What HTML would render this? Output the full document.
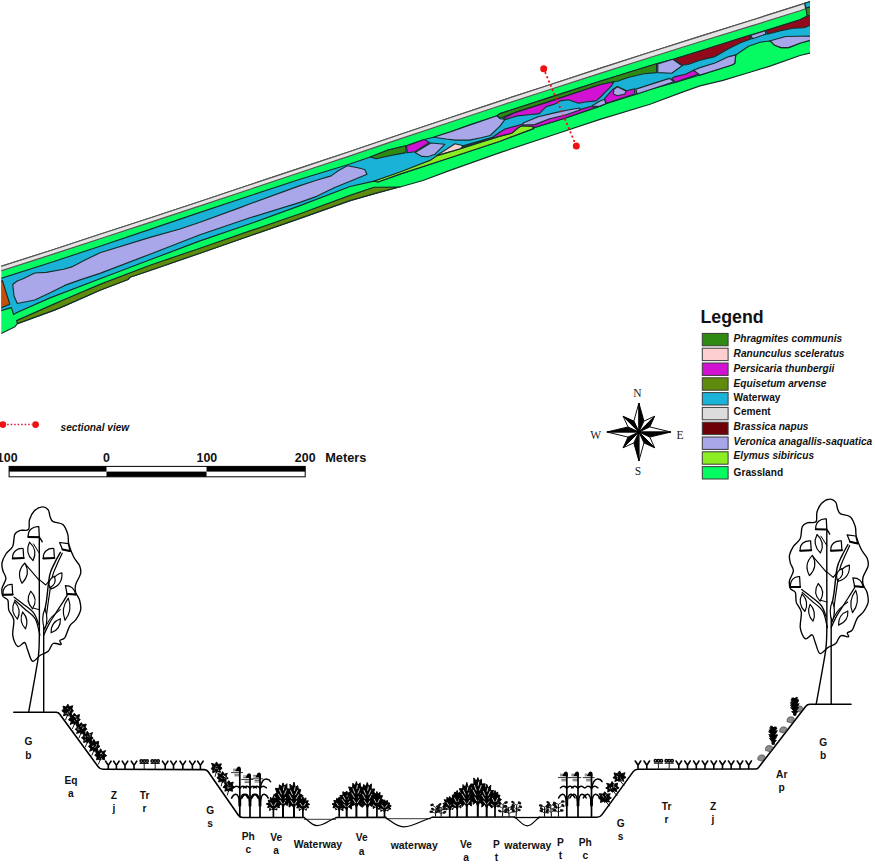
<!DOCTYPE html>
<html><head><meta charset="utf-8"><title>Sectional view</title>
<style>html,body{margin:0;padding:0;background:#fff}svg{display:block}</style></head>
<body>
<svg width="875" height="865" viewBox="0 0 875 865">
<rect width="875" height="865" fill="#fff"/>
<clipPath id="mapclip"><rect x="1.3" y="0" width="808.7" height="400"/></clipPath>
<g stroke="#15302c" stroke-width="1.15" stroke-linejoin="round" clip-path="url(#mapclip)">
<polygon points="-3.0,267.7 50.0,250.7 100.0,234.3 150.0,218.0 200.0,201.5 250.0,184.8 300.0,168.1 350.0,151.5 400.0,134.5 450.0,117.8 500.0,101.1 550.0,84.7 600.0,68.4 650.0,52.3 700.0,36.4 750.0,20.7 800.0,4.9 804.7,3.3 814.0,0.6 814.0,52.3 800.0,55.5 770.0,66.1 750.0,72.3 723.0,80.4 700.0,85.9 681.0,92.6 650.0,104.2 600.0,119.4 550.0,136.0 500.0,152.6 450.0,170.4 423.0,180.5 400.0,187.0 400.0,187.0 398.4,187.3 378.0,192.6 350.0,200.6 300.0,218.4 250.0,235.8 200.0,253.2 150.0,270.5 130.0,277.2 128.0,279.5 100.0,290.3 65.0,305.6 55.0,309.9 17.4,323.6 15.0,326.7 -3.0,335.6" fill="#06fb62"/>
<polygon points="-3.0,267.7 50.0,250.7 100.0,234.3 150.0,218.0 200.0,201.5 250.0,184.8 300.0,168.1 350.0,151.5 400.0,134.5 450.0,117.8 500.0,101.1 550.0,84.7 600.0,68.4 650.0,52.3 700.0,36.4 750.0,20.7 800.0,4.9 804.7,3.3 805.6,8.8 800.0,10.8 750.0,26.4 700.0,41.8 650.0,57.5 600.0,73.4 550.0,89.5 500.0,105.7 450.0,122.2 400.0,138.9 350.0,155.9 300.0,172.5 250.0,189.2 200.0,205.9 150.0,222.4 100.0,238.7 50.0,255.1 -3.0,272.1" fill="#e4e4e4" stroke="#5a5555"/>
<polygon points="16.6,320.6 55.0,303.6 65.0,299.3 100.0,284.4 150.0,265.2 200.0,248.2 250.0,230.9 300.0,213.8 350.0,195.4 374.0,187.2 400.0,187.0 400.0,187.0 398.4,187.3 378.0,192.6 350.0,200.6 300.0,218.4 250.0,235.8 200.0,253.2 150.0,270.5 130.0,277.2 128.0,279.5 100.0,290.3 65.0,305.6 55.0,309.9 17.4,323.6" fill="#5f8c0c"/>
<polygon points="-3.0,279.7 50.0,262.8 100.0,246.2 150.0,229.4 200.0,212.4 250.0,195.7 300.0,179.3 350.0,164.0 370.2,157.0 388.1,150.0 405.7,145.8 406.4,145.9 424.3,139.5 433.5,137.2 450.0,132.0 469.4,125.1 497.1,115.8 500.0,113.6 550.0,97.4 600.0,81.2 650.0,65.7 656.6,63.7 672.8,59.3 700.0,51.0 749.7,35.3 765.3,30.6 800.0,19.7 807.0,16.2 814.0,14.0 814.0,39.4 800.5,43.0 788.5,47.6 781.1,47.6 774.6,45.3 771.0,41.6 769.4,41.0 760.1,42.2 748.6,46.2 735.8,54.9 734.7,63.6 731.2,65.3 700.0,75.0 675.1,82.4 650.0,89.4 634.7,94.6 606.0,103.8 600.0,106.1 564.7,118.2 534.7,127.5 533.5,128.6 500.0,141.2 450.0,157.7 400.0,174.1 378.0,182.0 374.0,181.1 350.0,186.5 300.0,205.6 250.0,223.8 200.0,240.9 150.0,259.8 100.0,278.7 50.0,297.9 17.5,312.3 13.6,314.6 11.4,307.6 -3.0,311.9" fill="#1bb2d8"/>
<polygon points="-3.0,284.6 2.4,280.5 9.8,304.2 -3.0,309.6" fill="#c4500e"/>
<polygon points="12.7,284.5 17.3,281.0 23.1,278.7 34.7,273.0 46.2,272.4 63.6,269.2 71.7,266.9 85.5,259.8 100.0,252.8 150.0,237.4 180.0,229.0 200.0,222.2 240.0,207.6 250.0,203.8 300.0,185.6 317.3,180.0 331.2,175.9 338.2,170.7 347.4,165.8 357.8,167.8 364.7,169.5 367.0,174.2 352.0,180.5 334.7,187.5 317.3,196.1 300.0,202.4 250.0,217.8 200.0,234.8 150.0,254.2 100.0,273.4 80.9,279.6 64.7,285.4 49.7,293.0 34.7,300.0 17.3,303.5 14.0,296.0" fill="#a9a6ea"/>
<polygon points="370.2,157.0 388.1,150.0 405.7,145.8 406.0,152.6 399.3,153.9 390.9,155.5 376.1,158.7" fill="#2e8a12"/>
<polygon points="406.4,145.9 424.3,139.5 429.5,142.4 415.0,151.7 407.5,152.8" fill="#d212d2"/>
<polygon points="415.0,152.6 430.8,143.0 444.8,144.3 435.0,154.2 428.0,156.8 421.9,156.4" fill="#a9a6ea"/>
<polygon points="433.5,137.2 450.0,132.0 469.4,125.1 497.1,115.8 500.0,118.7 505.0,119.3 500.0,126.2 490.2,135.5 480.9,137.8 469.4,140.1 455.5,140.1 446.2,139.0" fill="#a9a6ea"/>
<polygon points="436.0,155.9 455.0,143.8 463.4,145.7 460.1,149.2 448.6,152.3" fill="#fdd0d0"/>
<polygon points="374.0,181.1 400.0,172.0 430.0,160.4 436.6,155.9 460.1,148.9 500.0,136.1 511.6,133.2 518.5,127.5 522.0,125.7 532.4,126.3 533.5,128.6 500.0,141.2 450.0,157.7 400.0,174.1 378.0,182.0" fill="#8cee22"/>
<polygon points="463.0,145.9 492.5,137.2 500.0,132.0 505.0,129.0 523.1,124.0 534.7,124.0 549.7,118.2 564.7,114.7 579.8,109.6 592.5,106.0 600.0,104.5 600.0,106.1 564.7,118.2 534.7,127.5 532.4,126.3 522.0,125.7 518.5,127.5 511.6,133.2 500.0,136.1 462.0,147.5" fill="#d212d2"/>
<polygon points="497.1,115.8 500.0,113.6 550.0,97.4 600.0,81.2 650.0,65.7 656.6,63.7 656.6,72.6 643.9,73.8 628.9,77.2 617.3,81.3 613.9,81.8 600.0,84.7 550.0,101.4 515.0,112.6 500.0,118.2" fill="#2e8a12"/>
<polygon points="515.0,112.6 550.0,101.4 600.0,84.7 613.9,81.8 611.6,85.9 605.8,91.7 600.0,97.5 596.0,100.9 585.5,102.0 578.6,103.2 568.2,99.7 560.1,100.9 554.3,104.3 546.2,106.6 539.3,113.6 528.9,114.7 517.3,115.9 505.8,119.4 503.0,118.5" fill="#d212d2"/>
<polygon points="523.1,123.0 538.2,116.7 555.5,112.6 569.4,109.7 579.8,108.0 579.8,110.0 564.7,115.2 549.7,118.8 534.7,124.6 523.1,125.0" fill="#a9a6ea"/>
<polygon points="592.5,105.5 600.0,101.0 604.6,99.2 605.8,103.8 600.0,106.1 592.5,106.6" fill="#a9a6ea"/>
<polygon points="612.7,89.4 604.6,98.6 606.4,103.2 634.7,94.0 634.7,88.8 626.6,90.7 617.3,86.5" fill="#d212d2"/>
<polygon points="613.9,89.4 617.3,86.8 626.0,91.1 624.9,94.0 617.3,95.7 613.3,94.0" fill="#a9a6ea"/>
<polygon points="635.8,89.1 669.4,78.4 674.0,81.8 637.0,94.0" fill="#a9a6ea"/>
<polygon points="671.7,78.4 675.1,76.6 685.5,74.3 693.6,70.3 699.4,73.8 675.1,82.4" fill="#d212d2"/>
<polygon points="693.6,70.3 700.0,67.6 715.0,63.0 728.9,56.6 735.8,54.9 734.7,63.6 731.2,65.3 700.0,75.1" fill="#a9a6ea"/>
<polygon points="657.8,63.9 672.8,59.3 682.1,65.7 671.7,73.2 657.8,72.6" fill="#a9a6ea"/>
<polygon points="674.0,59.3 700.0,51.0 749.7,35.3 751.4,38.7 740.5,42.8 728.9,48.6 715.0,56.6 700.0,60.3 687.9,64.5 682.1,65.1" fill="#900a1c"/>
<polygon points="750.9,35.3 765.3,30.6 765.9,34.1 752.6,38.7" fill="#a9a6ea"/>
<polygon points="766.5,30.6 800.0,19.7 807.0,16.2 814.0,14.0 814.0,23.7 804.2,27.7 793.1,28.2 780.9,30.6 767.1,34.1" fill="#900a1c"/>
<polygon points="769.4,41.0 785.7,36.5 797.7,36.3 814.0,36.0 814.0,39.4 800.5,43.0 788.5,47.6 781.1,47.6 774.6,45.3 771.0,41.6" fill="#a9a6ea"/>
<polygon points="804.7,3.2 814.0,0.6 814.0,6.2 806.0,8.0" fill="#1bb2d8"/>
<polygon points="806.0,8.0 814.0,6.2 814.0,14.0 807.0,16.2" fill="#2e8a12"/>
</g>
<line x1="545.4" y1="72.9" x2="574.6" y2="142" stroke="#e81414" stroke-width="2.0" stroke-linecap="round" stroke-dasharray="0.3,4.3"/>
<circle cx="543.7" cy="68.8" r="3.5" fill="#ee1212"/><circle cx="576.3" cy="146" r="3.5" fill="#ee1212"/>
<text x="700.5" y="322.8" font-family="Liberation Sans, Arial, sans-serif" font-size="17.8" font-weight="bold" fill="#111">Legend</text>
<rect x="702.3" y="333.40" width="25.8" height="12.4" fill="#2e8a12" stroke="#3a3a3a" stroke-width="1"/>
<text x="733.6" y="341.60" font-family="Liberation Sans, Arial, sans-serif" font-size="10.15" font-weight="bold" font-style="italic" fill="#111">Phragmites communis</text>
<rect x="702.3" y="348.20" width="25.8" height="12.4" fill="#fdcfd0" stroke="#3a3a3a" stroke-width="1"/>
<text x="733.6" y="357.10" font-family="Liberation Sans, Arial, sans-serif" font-size="10.15" font-weight="bold" font-style="italic" fill="#111">Ranunculus sceleratus</text>
<rect x="702.3" y="363.00" width="25.8" height="12.4" fill="#d212d2" stroke="#3a3a3a" stroke-width="1"/>
<text x="733.6" y="372.30" font-family="Liberation Sans, Arial, sans-serif" font-size="10.15" font-weight="bold" font-style="italic" fill="#111">Persicaria thunbergii</text>
<rect x="702.3" y="377.80" width="25.8" height="12.4" fill="#5f8c0c" stroke="#3a3a3a" stroke-width="1"/>
<text x="733.6" y="387.10" font-family="Liberation Sans, Arial, sans-serif" font-size="10.15" font-weight="bold" font-style="italic" fill="#111">Equisetum arvense</text>
<rect x="702.3" y="392.60" width="25.8" height="12.4" fill="#1bb2d8" stroke="#3a3a3a" stroke-width="1"/>
<text x="733.6" y="400.60" font-family="Liberation Sans, Arial, sans-serif" font-size="10.15" font-weight="bold" fill="#111">Waterway</text>
<rect x="702.3" y="407.40" width="25.8" height="12.4" fill="#dcdcdc" stroke="#3a3a3a" stroke-width="1"/>
<text x="733.6" y="415.40" font-family="Liberation Sans, Arial, sans-serif" font-size="10.15" font-weight="bold" fill="#111">Cement</text>
<rect x="702.3" y="422.20" width="25.8" height="12.4" fill="#6e0008" stroke="#3a3a3a" stroke-width="1"/>
<text x="733.6" y="430.20" font-family="Liberation Sans, Arial, sans-serif" font-size="10.15" font-weight="bold" font-style="italic" fill="#111">Brassica napus</text>
<rect x="702.3" y="437.00" width="25.8" height="12.4" fill="#a9a6ea" stroke="#3a3a3a" stroke-width="1"/>
<text x="733.6" y="444.50" font-family="Liberation Sans, Arial, sans-serif" font-size="10.15" font-weight="bold" font-style="italic" fill="#111">Veronica anagallis-saquatica</text>
<rect x="702.3" y="451.80" width="25.8" height="12.4" fill="#8cee22" stroke="#3a3a3a" stroke-width="1"/>
<text x="733.6" y="458.70" font-family="Liberation Sans, Arial, sans-serif" font-size="10.15" font-weight="bold" font-style="italic" fill="#111">Elymus sibiricus</text>
<rect x="702.3" y="466.60" width="25.8" height="12.4" fill="#06fb62" stroke="#3a3a3a" stroke-width="1"/>
<text x="733.6" y="475.60" font-family="Liberation Sans, Arial, sans-serif" font-size="10.15" font-weight="bold" fill="#111">Grassland</text>
<g stroke="#000" stroke-width="0.95" stroke-linejoin="miter">
<polygon points="638.90,403.00 633.83,421.12 638.90,432.00" fill="#fff"/>
<polygon points="638.90,403.00 643.97,421.12 638.90,432.00" fill="#000"/>
<polygon points="654.67,416.23 643.97,421.12 638.90,432.00" fill="#fff"/>
<polygon points="654.67,416.23 649.78,426.93 638.90,432.00" fill="#000"/>
<polygon points="670.90,432.00 649.78,426.93 638.90,432.00" fill="#fff"/>
<polygon points="670.90,432.00 649.78,437.07 638.90,432.00" fill="#000"/>
<polygon points="654.67,447.77 649.78,437.07 638.90,432.00" fill="#fff"/>
<polygon points="654.67,447.77 643.97,442.88 638.90,432.00" fill="#000"/>
<polygon points="638.90,461.00 643.97,442.88 638.90,432.00" fill="#fff"/>
<polygon points="638.90,461.00 633.83,442.88 638.90,432.00" fill="#000"/>
<polygon points="623.13,447.77 633.83,442.88 638.90,432.00" fill="#fff"/>
<polygon points="623.13,447.77 628.02,437.07 638.90,432.00" fill="#000"/>
<polygon points="606.90,432.00 628.02,437.07 638.90,432.00" fill="#fff"/>
<polygon points="606.90,432.00 628.02,426.93 638.90,432.00" fill="#000"/>
<polygon points="623.13,416.23 628.02,426.93 638.90,432.00" fill="#fff"/>
<polygon points="623.13,416.23 633.83,421.12 638.90,432.00" fill="#000"/>
</g>
<circle cx="638.9" cy="432.0" r="2.3" fill="#000"/>
<text x="637.3" y="397.2" font-family="Liberation Serif, Times New Roman, serif" font-size="11.5" text-anchor="middle" fill="#222">N</text>
<text x="638" y="475.4" font-family="Liberation Serif, Times New Roman, serif" font-size="11.5" text-anchor="middle" fill="#222">S</text>
<text x="595.6" y="438.8" font-family="Liberation Serif, Times New Roman, serif" font-size="11.5" text-anchor="middle" fill="#222">W</text>
<text x="679.9" y="438.8" font-family="Liberation Serif, Times New Roman, serif" font-size="11.5" text-anchor="middle" fill="#222">E</text>
<line x1="7.2" y1="424.6" x2="32" y2="424.6" stroke="#d4143c" stroke-width="1.5" stroke-dasharray="1.5,2.0"/>
<circle cx="2.8" cy="424.6" r="3.4" fill="#ee1212"/><circle cx="35.6" cy="424.6" r="3.4" fill="#ee1212"/>
<text x="60.6" y="430.6" font-family="Liberation Sans, Arial, sans-serif" font-size="10.15" font-weight="bold" font-style="italic" fill="#111">sectional view</text>
<rect x="9.1" y="466.4" width="296.09999999999997" height="10.400000000000034" fill="#fff" stroke="#000" stroke-width="1"/>
<rect x="9.1" y="466.4" width="97.4" height="5.2000000000000455" fill="#000"/>
<rect x="106.5" y="471.6" width="100.0" height="5.199999999999989" fill="#000"/>
<rect x="206.5" y="466.4" width="98.69999999999999" height="5.2000000000000455" fill="#000"/>
<text x="7.2" y="462.3" font-family="Liberation Sans, Arial, sans-serif" font-size="12.4" font-weight="bold" text-anchor="middle" fill="#111">100</text>
<text x="106.5" y="462.3" font-family="Liberation Sans, Arial, sans-serif" font-size="12.4" font-weight="bold" text-anchor="middle" fill="#111">0</text>
<text x="206.9" y="462.3" font-family="Liberation Sans, Arial, sans-serif" font-size="12.4" font-weight="bold" text-anchor="middle" fill="#111">100</text>
<text x="305.2" y="462.3" font-family="Liberation Sans, Arial, sans-serif" font-size="12.4" font-weight="bold" text-anchor="middle" fill="#111">200</text>
<text x="325.2" y="462.3" font-family="Liberation Sans, Arial, sans-serif" font-size="12.8" font-weight="bold" fill="#111">Meters</text>
<path d="M42.3,506.9 C44.5,506.7 46.8,508.2 48.2,509.8 C49.5,511.5 49.3,514.7 50.1,516.7 C50.9,518.7 50.9,520.3 53.1,521.6 C55.2,522.9 60.4,522.4 62.9,524.6 C65.3,526.7 66.8,531.1 67.8,534.4 C68.8,537.7 67.8,540.5 68.8,544.2 C69.8,548.0 71.9,553.4 73.7,557.0 C75.5,560.6 78.5,563.1 79.6,565.8 C80.7,568.6 81.2,570.6 80.6,573.7 C79.9,576.8 76.5,581.4 75.7,584.5 C74.8,587.6 75.0,589.8 75.7,592.4 C76.3,595.0 78.8,597.3 79.6,600.2 C80.4,603.2 81.2,606.8 80.6,610.1 C79.9,613.3 77.5,617.3 75.7,619.9 C73.9,622.5 71.6,622.8 69.8,625.8 C68.0,628.7 66.5,635.1 64.9,637.6 C63.2,640.0 60.6,639.4 59.9,640.5 C59.3,641.7 62.1,644.0 60.9,644.5 C59.8,644.9 55.2,642.3 53.1,643.5 C50.9,644.6 50.3,649.4 48.2,651.3 C46.0,653.3 42.9,653.6 40.3,655.3 C37.7,656.9 34.6,662.1 32.4,661.2 C30.3,660.2 28.8,652.5 27.5,649.4 C26.2,646.3 26.2,643.0 24.6,642.5 C22.9,642.0 19.7,647.6 17.7,646.4 C15.7,645.3 13.4,640.0 12.8,635.6 C12.1,631.2 14.4,624.1 13.8,619.9 C13.1,615.6 9.8,613.3 8.8,610.1 C7.9,606.8 8.8,602.5 7.9,600.2 C6.9,597.9 3.9,598.3 2.9,596.3 C2.0,594.3 1.5,591.4 2.0,588.4 C2.5,585.5 5.7,581.6 5.9,578.6 C6.1,575.7 3.6,573.4 2.9,570.8 C2.3,568.1 1.5,565.7 2.0,562.9 C2.5,560.1 4.1,556.8 5.9,554.0 C7.7,551.3 11.3,549.5 12.8,546.2 C14.2,542.9 13.6,537.0 14.7,534.4 C15.9,531.8 17.4,531.3 19.7,530.5 C21.9,529.6 26.9,531.3 28.5,529.5 C30.1,527.7 28.5,522.8 29.5,519.7 C30.5,516.5 32.3,512.9 34.4,510.8 C36.5,508.7 40.0,507.0 42.3,506.9Z" fill="#fff" stroke="#000" stroke-width="1.35"/>
<path d="M42.2,541.8 C41.8,541.2 40.0,537.6 39.6,538.1 C39.1,538.7 39.4,537.4 39.3,545.1 C39.3,552.8 39.3,569.0 39.3,584.4 C39.3,599.8 39.5,625.5 39.3,637.5 C39.2,649.4 39.1,649.7 38.4,656.0 C37.7,662.2 36.9,665.8 35.3,675.1 C33.7,684.4 29.8,705.7 28.7,711.8" fill="none" stroke="#000" stroke-width="1.4" stroke-linecap="round" stroke-linejoin="round"/>
<path d="M43.7,711.8 C43.7,705.7 43.7,688.2 43.7,675.1 C43.7,661.9 43.6,643.2 43.7,632.8 C43.9,622.5 44.1,618.6 44.5,613.2 C45.0,607.8 45.6,606.8 46.5,600.5 C47.4,594.1 48.4,581.3 49.7,575.2 C51.1,569.0 52.6,567.4 54.4,563.6 C56.1,559.8 59.4,554.1 60.4,552.3" fill="none" stroke="#000" stroke-width="1.4" stroke-linecap="round" stroke-linejoin="round"/>
<path d="M45.3,623.6 C45.8,620.3 46.9,611.7 48.0,603.9 C49.2,596.1 50.8,583.4 52.3,576.9 C53.8,570.4 55.3,568.7 56.9,564.7 C58.6,560.8 61.4,555.1 62.2,553.2" fill="none" stroke="#000" stroke-width="1.2" stroke-linecap="round" stroke-linejoin="round"/>
<path d="M38.8,624.7 C37.9,622.8 36.4,616.6 33.8,613.2 C31.2,609.7 26.4,606.6 23.1,603.9 C19.9,601.3 15.6,598.3 14.1,597.2" fill="none" stroke="#000" stroke-width="1.25" stroke-linecap="round" stroke-linejoin="round"/>
<path d="M39.9,635.2 C39.1,632.5 37.8,623.4 35.3,619.0 C32.7,614.6 27.9,611.9 24.5,608.8 C21.1,605.7 16.4,601.6 14.8,600.2" fill="none" stroke="#000" stroke-width="1.25" stroke-linecap="round" stroke-linejoin="round"/>
<path d="M43.7,635.2 C44.6,633.2 47.2,627.3 49.2,623.6 C51.2,619.9 53.4,616.9 55.8,613.2 C58.1,609.5 61.5,604.4 63.4,601.4 C65.3,598.3 66.7,596.0 67.3,594.9" fill="none" stroke="#000" stroke-width="1.25" stroke-linecap="round" stroke-linejoin="round"/>
<path d="M44.0,629.4 C45.1,627.5 48.2,621.3 50.9,618.0 C53.6,614.8 58.6,611.1 60.2,609.7" fill="none" stroke="#000" stroke-width="1.1" stroke-linecap="round" stroke-linejoin="round"/>
<path d="M39.3,580.4 L24.9,563.6" fill="none" stroke="#000" stroke-width="1.1" stroke-linejoin="round" stroke-linecap="round"/>
<path d="M39.3,553.2 L33.5,543.9" fill="none" stroke="#000" stroke-width="1.0" stroke-linejoin="round" stroke-linecap="round"/>
<path d="M39.6,579.8 L45.7,585.0 L50.0,579.8" fill="none" stroke="#000" stroke-width="1.1" stroke-linejoin="round" stroke-linecap="round"/>
<path d="M39.6,609.7 L33.0,608.0" fill="none" stroke="#000" stroke-width="1.0" stroke-linejoin="round" stroke-linecap="round"/>
<path d="M29.5,542.2 Q24.4,552.7 33.0,560.7 Q38.1,550.2 29.5,542.2Z" fill="#fff" stroke="#000" stroke-width="1.15" stroke-linejoin="round"/>
<path d="M24.9,563.0 Q15.8,572.0 22.0,583.3 Q31.0,574.2 24.9,563.0Z" fill="#fff" stroke="#000" stroke-width="1.15" stroke-linejoin="round"/>
<path d="M61.9,572.8 Q50.0,576.6 50.9,589.0 Q62.8,585.3 61.9,572.8Z" fill="#fff" stroke="#000" stroke-width="1.15" stroke-linejoin="round"/>
<path d="M30.7,591.2 Q24.7,600.8 32.6,608.8 Q38.6,599.2 30.7,591.2Z" fill="#fff" stroke="#000" stroke-width="1.15" stroke-linejoin="round"/>
<path d="M14.5,601.6 Q9.7,611.4 17.4,619.2 Q22.1,609.4 14.5,601.6Z" fill="#fff" stroke="#000" stroke-width="1.15" stroke-linejoin="round"/>
<path d="M22.6,612.0 Q18.5,621.4 25.5,628.9 Q29.5,619.5 22.6,612.0Z" fill="#fff" stroke="#000" stroke-width="1.15" stroke-linejoin="round"/>
<path d="M68.3,598.1 Q60.4,608.3 65.0,620.3 Q72.9,610.2 68.3,598.1Z" fill="#fff" stroke="#000" stroke-width="1.15" stroke-linejoin="round"/>
<path d="M44.9,608.8 Q40.6,619.0 44.7,629.4 Q49.0,619.1 44.9,608.8Z" fill="#fff" stroke="#000" stroke-width="1.15" stroke-linejoin="round"/>
<path d="M60.4,618.7 Q50.5,622.3 51.1,632.8 Q61.0,629.2 60.4,618.7Z" fill="#fff" stroke="#000" stroke-width="1.15" stroke-linejoin="round"/>
<path d="M54.4,576.2 Q46.9,579.9 49.7,587.7 Q57.3,584.0 54.4,576.2Z" fill="#fff" stroke="#000" stroke-width="1.15" stroke-linejoin="round"/>
<path d="M28.3,537.0 C27.5,529.8 33.0,526.1 38.8,526.6 L39.3,537.2Z" fill="#fff" stroke="#000" stroke-width="1.25" stroke-linejoin="round"/><path d="M28.3,537.0 L39.3,537.2" fill="none" stroke="#000" stroke-width="2.0" stroke-linejoin="round" stroke-linecap="round"/>
<path d="M12.7,558.4 C12.0,551.6 17.4,548.1 23.1,548.5 L23.7,558.0Z" fill="#fff" stroke="#000" stroke-width="1.25" stroke-linejoin="round"/><path d="M12.7,558.4 L23.7,558.0" fill="none" stroke="#000" stroke-width="2.0" stroke-linejoin="round" stroke-linecap="round"/>
<path d="M43.4,558.4 C42.7,551.6 48.0,548.1 53.8,548.5 L54.4,558.0Z" fill="#fff" stroke="#000" stroke-width="1.25" stroke-linejoin="round"/><path d="M43.4,558.4 L54.4,558.0" fill="none" stroke="#000" stroke-width="2.0" stroke-linejoin="round" stroke-linecap="round"/>
<path d="M59.6,542.5 L68.3,543.7 L70.1,551.1 L62.5,549.5Z" fill="#fff" stroke="#000" stroke-width="1.25" stroke-linejoin="round" stroke-linecap="round"/>
<path d="M62.5,549.5 L70.1,551.1" fill="none" stroke="#000" stroke-width="2.0" stroke-linejoin="round" stroke-linecap="round"/>
<path d="M2.9,594.8 C2.5,587.9 6.7,583.9 12.1,584.4 L12.7,594.6Z" fill="#fff" stroke="#000" stroke-width="1.25" stroke-linejoin="round"/><path d="M2.9,594.8 L12.7,594.6" fill="none" stroke="#000" stroke-width="2.0" stroke-linejoin="round" stroke-linecap="round"/>
<path d="M65.4,585.6 C70.6,585.6 74.6,588.5 75.8,594.6 L67.1,593.9Z" fill="#fff" stroke="#000" stroke-width="1.25" stroke-linejoin="round"/><path d="M67.1,593.9 L75.8,594.6" fill="none" stroke="#000" stroke-width="2.0" stroke-linejoin="round" stroke-linecap="round"/>
<path d="M829.8,499.2 C832.0,499.0 834.3,500.5 835.7,502.1 C837.0,503.8 836.8,507.0 837.6,509.0 C838.4,511.0 838.4,512.6 840.6,513.9 C842.7,515.2 847.9,514.7 850.4,516.9 C852.8,519.0 854.3,523.4 855.3,526.7 C856.3,530.0 855.3,532.8 856.3,536.5 C857.3,540.3 859.4,545.7 861.2,549.3 C863.0,552.9 866.0,555.4 867.1,558.1 C868.2,560.9 868.7,562.9 868.1,566.0 C867.4,569.1 864.0,573.7 863.2,576.8 C862.3,579.9 862.5,582.1 863.2,584.7 C863.8,587.3 866.3,589.6 867.1,592.5 C867.9,595.5 868.7,599.1 868.1,602.4 C867.4,605.6 865.0,609.6 863.2,612.2 C861.4,614.8 859.1,615.1 857.3,618.1 C855.5,621.0 854.0,627.4 852.4,629.9 C850.7,632.3 848.1,631.7 847.4,632.8 C846.8,634.0 849.6,636.3 848.4,636.8 C847.3,637.2 842.7,634.6 840.6,635.8 C838.4,636.9 837.8,641.7 835.7,643.6 C833.5,645.6 830.4,645.9 827.8,647.6 C825.2,649.2 822.1,654.4 819.9,653.5 C817.8,652.5 816.3,644.8 815.0,641.7 C813.7,638.6 813.7,635.3 812.1,634.8 C810.4,634.3 807.2,639.9 805.2,638.7 C803.2,637.6 800.9,632.3 800.3,627.9 C799.6,623.5 801.9,616.4 801.3,612.2 C800.6,607.9 797.3,605.6 796.3,602.4 C795.4,599.1 796.3,594.8 795.4,592.5 C794.4,590.2 791.4,590.6 790.4,588.6 C789.5,586.6 789.0,583.7 789.5,580.7 C790.0,577.8 793.2,573.9 793.4,570.9 C793.6,568.0 791.1,565.7 790.4,563.1 C789.8,560.4 789.0,558.0 789.5,555.2 C790.0,552.4 791.6,549.1 793.4,546.3 C795.2,543.6 798.8,541.8 800.3,538.5 C801.7,535.2 801.1,529.3 802.2,526.7 C803.4,524.1 804.9,523.6 807.2,522.8 C809.4,521.9 814.4,523.6 816.0,521.8 C817.6,520.0 816.0,515.1 817.0,512.0 C818.0,508.8 819.8,505.2 821.9,503.1 C824.0,501.0 827.5,499.3 829.8,499.2Z" fill="#fff" stroke="#000" stroke-width="1.35"/>
<path d="M829.7,534.1 C829.3,533.5 827.5,529.9 827.1,530.4 C826.6,531.0 826.9,529.7 826.8,537.4 C826.8,545.1 826.8,561.3 826.8,576.7 C826.8,592.1 827.0,617.8 826.8,629.8 C826.7,641.7 826.6,642.0 825.9,648.3 C825.2,654.5 824.4,658.1 822.8,667.4 C821.2,676.7 817.3,698.0 816.2,704.1" fill="none" stroke="#000" stroke-width="1.4" stroke-linecap="round" stroke-linejoin="round"/>
<path d="M831.2,704.1 C831.2,698.0 831.2,680.5 831.2,667.4 C831.2,654.2 831.1,635.5 831.2,625.1 C831.4,614.8 831.6,610.9 832.0,605.5 C832.5,600.1 833.1,599.1 834.0,592.8 C834.9,586.4 835.9,573.6 837.2,567.5 C838.6,561.3 840.1,559.7 841.9,555.9 C843.6,552.1 846.9,546.4 847.9,544.6" fill="none" stroke="#000" stroke-width="1.4" stroke-linecap="round" stroke-linejoin="round"/>
<path d="M832.8,615.9 C833.3,612.6 834.4,604.0 835.5,596.2 C836.7,588.4 838.3,575.7 839.8,569.2 C841.3,562.7 842.8,561.0 844.4,557.0 C846.1,553.1 848.9,547.4 849.7,545.5" fill="none" stroke="#000" stroke-width="1.2" stroke-linecap="round" stroke-linejoin="round"/>
<path d="M826.3,617.0 C825.4,615.1 823.9,608.9 821.3,605.5 C818.7,602.0 813.9,598.9 810.6,596.2 C807.4,593.6 803.1,590.6 801.6,589.5" fill="none" stroke="#000" stroke-width="1.25" stroke-linecap="round" stroke-linejoin="round"/>
<path d="M827.4,627.5 C826.6,624.8 825.3,615.7 822.8,611.3 C820.2,606.9 815.4,604.2 812.0,601.1 C808.6,598.0 803.9,593.9 802.3,592.5" fill="none" stroke="#000" stroke-width="1.25" stroke-linecap="round" stroke-linejoin="round"/>
<path d="M831.2,627.5 C832.1,625.5 834.7,619.6 836.7,615.9 C838.7,612.2 840.9,609.2 843.3,605.5 C845.6,601.8 849.0,596.7 850.9,593.7 C852.8,590.6 854.2,588.3 854.8,587.2" fill="none" stroke="#000" stroke-width="1.25" stroke-linecap="round" stroke-linejoin="round"/>
<path d="M831.5,621.7 C832.6,619.8 835.7,613.6 838.4,610.3 C841.1,607.1 846.1,603.4 847.7,602.0" fill="none" stroke="#000" stroke-width="1.1" stroke-linecap="round" stroke-linejoin="round"/>
<path d="M826.8,572.7 L812.4,555.9" fill="none" stroke="#000" stroke-width="1.1" stroke-linejoin="round" stroke-linecap="round"/>
<path d="M826.8,545.5 L821.0,536.2" fill="none" stroke="#000" stroke-width="1.0" stroke-linejoin="round" stroke-linecap="round"/>
<path d="M827.1,572.1 L833.2,577.3 L837.5,572.1" fill="none" stroke="#000" stroke-width="1.1" stroke-linejoin="round" stroke-linecap="round"/>
<path d="M827.1,602.0 L820.5,600.3" fill="none" stroke="#000" stroke-width="1.0" stroke-linejoin="round" stroke-linecap="round"/>
<path d="M817.0,534.5 Q811.9,545.0 820.5,553.0 Q825.6,542.5 817.0,534.5Z" fill="#fff" stroke="#000" stroke-width="1.15" stroke-linejoin="round"/>
<path d="M812.4,555.3 Q803.3,564.3 809.5,575.6 Q818.5,566.5 812.4,555.3Z" fill="#fff" stroke="#000" stroke-width="1.15" stroke-linejoin="round"/>
<path d="M849.4,565.1 Q837.5,568.9 838.4,581.3 Q850.3,577.6 849.4,565.1Z" fill="#fff" stroke="#000" stroke-width="1.15" stroke-linejoin="round"/>
<path d="M818.2,583.5 Q812.2,593.1 820.1,601.1 Q826.1,591.5 818.2,583.5Z" fill="#fff" stroke="#000" stroke-width="1.15" stroke-linejoin="round"/>
<path d="M802.0,593.9 Q797.2,603.7 804.9,611.5 Q809.6,601.7 802.0,593.9Z" fill="#fff" stroke="#000" stroke-width="1.15" stroke-linejoin="round"/>
<path d="M810.1,604.3 Q806.0,613.7 813.0,621.2 Q817.0,611.8 810.1,604.3Z" fill="#fff" stroke="#000" stroke-width="1.15" stroke-linejoin="round"/>
<path d="M855.8,590.4 Q847.9,600.6 852.5,612.6 Q860.4,602.5 855.8,590.4Z" fill="#fff" stroke="#000" stroke-width="1.15" stroke-linejoin="round"/>
<path d="M832.4,601.1 Q828.1,611.3 832.2,621.7 Q836.5,611.4 832.4,601.1Z" fill="#fff" stroke="#000" stroke-width="1.15" stroke-linejoin="round"/>
<path d="M847.9,611.0 Q838.0,614.6 838.6,625.1 Q848.5,621.5 847.9,611.0Z" fill="#fff" stroke="#000" stroke-width="1.15" stroke-linejoin="round"/>
<path d="M841.9,568.5 Q834.4,572.2 837.2,580.0 Q844.8,576.3 841.9,568.5Z" fill="#fff" stroke="#000" stroke-width="1.15" stroke-linejoin="round"/>
<path d="M815.8,529.3 C815.0,522.1 820.5,518.4 826.3,518.9 L826.8,529.5Z" fill="#fff" stroke="#000" stroke-width="1.25" stroke-linejoin="round"/><path d="M815.8,529.3 L826.8,529.5" fill="none" stroke="#000" stroke-width="2.0" stroke-linejoin="round" stroke-linecap="round"/>
<path d="M800.2,550.7 C799.5,543.9 804.9,540.4 810.6,540.8 L811.2,550.3Z" fill="#fff" stroke="#000" stroke-width="1.25" stroke-linejoin="round"/><path d="M800.2,550.7 L811.2,550.3" fill="none" stroke="#000" stroke-width="2.0" stroke-linejoin="round" stroke-linecap="round"/>
<path d="M830.9,550.7 C830.2,543.9 835.5,540.4 841.3,540.8 L841.9,550.3Z" fill="#fff" stroke="#000" stroke-width="1.25" stroke-linejoin="round"/><path d="M830.9,550.7 L841.9,550.3" fill="none" stroke="#000" stroke-width="2.0" stroke-linejoin="round" stroke-linecap="round"/>
<path d="M847.1,534.8 L855.8,536.0 L857.6,543.4 L850.0,541.8Z" fill="#fff" stroke="#000" stroke-width="1.25" stroke-linejoin="round" stroke-linecap="round"/>
<path d="M850.0,541.8 L857.6,543.4" fill="none" stroke="#000" stroke-width="2.0" stroke-linejoin="round" stroke-linecap="round"/>
<path d="M790.4,587.1 C790.0,580.2 794.2,576.2 799.6,576.7 L800.2,586.9Z" fill="#fff" stroke="#000" stroke-width="1.25" stroke-linejoin="round"/><path d="M790.4,587.1 L800.2,586.9" fill="none" stroke="#000" stroke-width="2.0" stroke-linejoin="round" stroke-linecap="round"/>
<path d="M852.9,577.9 C858.1,577.9 862.1,580.8 863.3,586.9 L854.6,586.2Z" fill="#fff" stroke="#000" stroke-width="1.25" stroke-linejoin="round"/><path d="M854.6,586.2 L863.3,586.9" fill="none" stroke="#000" stroke-width="2.0" stroke-linejoin="round" stroke-linecap="round"/>
<path d="M13.8,712.2 L56.2,712.2 Q58.4,712.2 59.8,714.2 L98.2,766.8 Q100,769.3 103,769.3 L204.6,769.6 Q206.8,769.7 208.2,771.7 L238.4,815.2 Q240,817.5 243,817.5 L304.4,817.5" fill="none" stroke="#000" stroke-width="1.6" stroke-linejoin="round" stroke-linecap="round"/>
<path d="M336,817.5 L386,817.4" fill="none" stroke="#000" stroke-width="1.6" stroke-linejoin="round" stroke-linecap="round"/>
<path d="M432,817.2 L514.5,817" fill="none" stroke="#000" stroke-width="1.6" stroke-linejoin="round" stroke-linecap="round"/>
<path d="M539,817.2 L597,817.2 Q600.2,817.2 602,814.6 L633.2,771.6 Q634.9,769.3 638,769.3 L755.5,769 Q757.4,769 758.6,767.4 L805.8,706.2 Q807.3,704.3 810,704.3 L851,704.3" fill="none" stroke="#000" stroke-width="1.6" stroke-linejoin="round" stroke-linecap="round"/>
<path d="M304,817.5 C308,819.5 311,825.6 317,825.6 C325,825.6 330,819 337,817.5" fill="none" stroke="#000" stroke-width="1.15" stroke-linecap="round"/>
<path d="M385,817.4 C391,820 395,826.8 403.7,826.8 C414,826.8 424,819 433,817.2" fill="none" stroke="#000" stroke-width="1.15" stroke-linecap="round"/>
<path d="M514,817 C519,819 522,825.8 527.2,825.8 C532,825.8 535,820 539.5,817.2" fill="none" stroke="#000" stroke-width="1.15" stroke-linecap="round"/>
<path d="M304,819.3 L336,819.3" stroke="#000" stroke-width="0.8"/>
<path d="M386,818.7 L431,818.7" stroke="#000" stroke-width="0.8"/>
<path d="M514,817.5 L540,817.5" stroke="#000" stroke-width="1.3"/>
<path d="M67.7,714.5 L65.5,720.0" stroke="#000" stroke-width="0.9"/>
<path d="M67.9,704.2 L69.3,706.7 L72.7,705.7 L71.9,708.8 L73.5,711.1 L71.6,712.8 L71.7,715.8 L69.0,714.3 L68.0,716.2 L66.7,714.8 L63.4,715.8 L64.4,712.9 L61.8,710.7 L63.7,709.0 L63.0,706.1 L66.0,707.1Z" fill="#000" stroke="#000" stroke-width="0.9" stroke-linejoin="round"/><path d="M67.5,713.6 l0.1,-1.2 M67.4,708.5 l0.9,0.4 M69.8,710.5 l1.0,-0.6 M66.4,713.4 l-0.9,0.2 M67.9,714.0 l0.8,-0.1 M69.1,711.3 l0.0,1.0 M69.4,712.0 l0.6,0.1" stroke="#fff" stroke-width="0.7" fill="none"/>
<path d="M74.6,723.4 L72.4,728.9" stroke="#000" stroke-width="0.9"/>
<path d="M74.3,713.2 L76.4,715.6 L79.6,714.6 L78.7,718.1 L80.2,719.6 L78.4,721.6 L78.9,724.1 L75.8,723.5 L74.4,725.0 L73.7,723.0 L70.1,724.5 L71.3,721.6 L68.5,719.9 L70.3,717.6 L69.6,714.6 L72.8,715.6Z" fill="#000" stroke="#000" stroke-width="0.9" stroke-linejoin="round"/><path d="M75.0,721.5 l-0.6,-1.1 M75.7,717.3 l0.4,-0.8 M77.5,719.2 l-1.1,-0.4 M74.1,716.6 l1.2,-0.2 M75.8,717.0 l-0.6,0.2 M76.7,717.2 l0.0,0.2 M76.0,719.7 l0.8,-0.2" stroke="#fff" stroke-width="0.7" fill="none"/>
<path d="M81.1,732.7 L78.9,738.2" stroke="#000" stroke-width="0.9"/>
<path d="M81.4,722.6 L82.4,724.7 L86.3,724.1 L85.2,727.0 L87.0,729.3 L84.8,730.7 L85.2,733.7 L82.5,733.0 L81.4,734.0 L79.9,732.5 L76.6,733.4 L77.5,730.8 L75.2,729.5 L77.2,727.2 L75.9,723.6 L79.3,724.8Z" fill="#000" stroke="#000" stroke-width="0.9" stroke-linejoin="round"/><path d="M77.8,728.4 l0.5,-0.8 M83.3,726.8 l0.7,1.0 M81.3,725.6 l-0.4,1.2 M82.3,728.3 l0.7,0.5 M79.0,729.2 l-0.0,1.0 M78.2,728.7 l-0.4,0.9 M82.7,727.4 l0.2,1.0" stroke="#fff" stroke-width="0.7" fill="none"/>
<path d="M87.5,741.6 L85.3,747.1" stroke="#000" stroke-width="0.9"/>
<path d="M87.3,731.1 L89.0,734.0 L92.6,732.5 L91.1,736.3 L93.2,737.9 L91.5,739.8 L91.9,742.7 L88.8,741.3 L87.6,743.2 L86.3,741.7 L83.5,742.4 L84.1,739.9 L81.5,737.8 L83.8,736.0 L82.7,733.1 L86.0,734.3Z" fill="#000" stroke="#000" stroke-width="0.9" stroke-linejoin="round"/><path d="M85.3,739.5 l-0.2,1.0 M88.3,736.7 l-1.0,-0.7 M89.4,737.1 l0.4,-0.5 M85.7,737.5 l-0.4,0.2 M84.9,735.9 l0.5,1.0 M89.5,734.8 l0.5,-0.8 M89.5,734.9 l1.1,0.2" stroke="#fff" stroke-width="0.7" fill="none"/>
<path d="M94.0,750.1 L91.8,755.6" stroke="#000" stroke-width="0.9"/>
<path d="M93.8,739.3 L95.6,742.2 L98.7,741.3 L98.3,744.8 L100.0,746.4 L97.6,748.2 L97.9,750.9 L95.0,750.4 L94.2,751.6 L93.0,749.8 L89.7,751.3 L90.5,748.6 L88.4,746.3 L90.1,744.7 L89.0,741.1 L92.3,742.2Z" fill="#000" stroke="#000" stroke-width="0.9" stroke-linejoin="round"/><path d="M96.7,744.8 l0.1,-0.5 M95.9,744.7 l1.1,0.8 M92.1,746.0 l0.3,-0.2 M94.8,747.6 l0.9,-1.1 M96.3,746.8 l-0.6,0.1 M92.3,746.4 l1.4,-0.7 M92.8,746.9 l0.4,-0.5" stroke="#fff" stroke-width="0.7" fill="none"/>
<path d="M100.5,759.0 L98.3,764.5" stroke="#000" stroke-width="0.9"/>
<path d="M100.6,748.7 L102.3,751.7 L105.7,750.5 L104.1,753.4 L106.7,755.7 L104.4,757.0 L104.6,759.9 L101.7,759.0 L100.2,760.1 L99.1,759.3 L96.5,759.8 L97.1,757.0 L94.7,755.3 L96.2,753.7 L95.3,750.0 L99.2,751.6Z" fill="#000" stroke="#000" stroke-width="0.9" stroke-linejoin="round"/><path d="M99.7,758.4 l0.1,0.4 M101.4,758.3 l0.5,1.1 M101.7,753.9 l-0.4,-0.8 M101.1,755.9 l-0.6,0.2 M103.0,755.0 l-0.5,-0.5 M101.3,752.9 l-0.5,-0.0 M100.2,753.9 l1.3,-1.1" stroke="#fff" stroke-width="0.7" fill="none"/>
<path d="M108.3,768.8 L108.3,765.0 M105.6,761.2 L108.3,765.4 L111.0,761.2" fill="none" stroke="#000" stroke-width="1.6" stroke-linecap="round" stroke-linejoin="round"/>
<path d="M116.4,768.8 L116.4,765.0 M113.7,761.2 L116.4,765.4 L119.1,761.2" fill="none" stroke="#000" stroke-width="1.6" stroke-linecap="round" stroke-linejoin="round"/>
<path d="M125.0,768.8 L125.0,765.0 M122.3,761.2 L125.0,765.4 L127.7,761.2" fill="none" stroke="#000" stroke-width="1.6" stroke-linecap="round" stroke-linejoin="round"/>
<path d="M134.0,768.8 L134.0,765.0 M131.3,761.2 L134.0,765.4 L136.7,761.2" fill="none" stroke="#000" stroke-width="1.6" stroke-linecap="round" stroke-linejoin="round"/>
<path d="M165.2,768.8 L165.2,765.0 M162.5,761.2 L165.2,765.4 L167.9,761.2" fill="none" stroke="#000" stroke-width="1.6" stroke-linecap="round" stroke-linejoin="round"/>
<path d="M173.5,768.8 L173.5,765.0 M170.8,761.2 L173.5,765.4 L176.2,761.2" fill="none" stroke="#000" stroke-width="1.6" stroke-linecap="round" stroke-linejoin="round"/>
<path d="M182.8,768.8 L182.8,765.0 M180.1,761.2 L182.8,765.4 L185.5,761.2" fill="none" stroke="#000" stroke-width="1.6" stroke-linecap="round" stroke-linejoin="round"/>
<path d="M192.4,768.8 L192.4,765.0 M189.7,761.2 L192.4,765.4 L195.1,761.2" fill="none" stroke="#000" stroke-width="1.6" stroke-linecap="round" stroke-linejoin="round"/>
<path d="M200.4,768.8 L200.4,765.0 M197.7,761.2 L200.4,765.4 L203.1,761.2" fill="none" stroke="#000" stroke-width="1.6" stroke-linecap="round" stroke-linejoin="round"/>
<circle cx="141.3" cy="761.0" r="1.25" fill="#fff" stroke="#000" stroke-width="1.45"/><circle cx="144.2" cy="761.0" r="1.25" fill="#fff" stroke="#000" stroke-width="1.45"/><circle cx="147.1" cy="761.0" r="1.25" fill="#fff" stroke="#000" stroke-width="1.45"/><path d="M139.6,763.4 L148.8,763.4" stroke="#000" stroke-width="1.0"/><path d="M144.2,769.0 L144.2,763.4" stroke="#000" stroke-width="0.9"/><circle cx="152.3" cy="761.0" r="1.25" fill="#fff" stroke="#000" stroke-width="1.45"/><circle cx="155.2" cy="761.0" r="1.25" fill="#fff" stroke="#000" stroke-width="1.45"/><circle cx="158.1" cy="761.0" r="1.25" fill="#fff" stroke="#000" stroke-width="1.45"/><path d="M150.6,763.4 L159.8,763.4" stroke="#000" stroke-width="1.0"/><path d="M155.2,769.0 L155.2,763.4" stroke="#000" stroke-width="0.9"/>
<path d="M216.5,770.8 L215.0,776.8" stroke="#000" stroke-width="0.9"/>
<path d="M216.5,761.9 L218.1,764.4 L221.4,763.8 L220.4,766.3 L222.1,768.3 L219.8,770.4 L220.7,772.4 L217.9,771.7 L216.4,772.7 L215.5,771.6 L212.7,772.8 L212.8,770.3 L211.3,768.8 L212.8,766.2 L211.4,763.3 L215.2,764.4Z" fill="#000" stroke="#000" stroke-width="0.9" stroke-linejoin="round"/><path d="M214.6,770.3 l-0.5,0.1 M215.6,768.4 l0.2,0.8 M217.2,769.1 l-0.2,-1.1 M213.8,768.0 l0.4,0.1 M217.2,766.9 l0.2,-0.3 M215.6,767.3 l0.8,-1.0 M217.8,770.4 l1.3,-0.2" stroke="#fff" stroke-width="0.7" fill="none"/>
<path d="M222.6,780.4 L221.1,786.4" stroke="#000" stroke-width="0.9"/>
<path d="M222.6,771.6 L224.4,774.2 L227.3,773.2 L226.1,776.1 L228.2,778.3 L225.8,779.5 L226.2,782.5 L223.9,780.9 L222.9,782.8 L221.6,781.3 L218.5,782.0 L219.2,779.4 L216.9,777.9 L218.5,776.1 L217.8,773.4 L221.1,774.3Z" fill="#000" stroke="#000" stroke-width="0.9" stroke-linejoin="round"/><path d="M220.3,777.5 l-0.1,-0.5 M225.7,777.5 l1.0,0.5 M222.1,778.9 l-0.6,-1.0 M222.8,775.7 l1.0,-0.3 M225.3,776.8 l-1.4,-0.7 M224.2,776.4 l1.3,-0.2 M224.6,778.6 l0.8,-0.6" stroke="#fff" stroke-width="0.7" fill="none"/>
<path d="M228.8,789.4 L227.3,795.4" stroke="#000" stroke-width="0.9"/>
<path d="M228.8,780.6 L230.5,782.9 L233.2,782.0 L232.4,785.3 L234.5,787.1 L232.3,788.8 L232.5,791.3 L229.7,790.5 L228.5,791.7 L227.4,790.4 L224.8,791.2 L225.6,788.3 L223.0,787.4 L225.1,784.8 L224.4,782.4 L227.0,783.1Z" fill="#000" stroke="#000" stroke-width="0.9" stroke-linejoin="round"/><path d="M229.8,787.8 l0.3,-0.8 M228.5,785.6 l-0.9,0.8 M227.4,787.7 l0.3,-0.1 M228.1,787.2 l0.6,1.1 M231.1,786.2 l-0.4,-0.3 M227.9,784.2 l-1.1,-0.6 M227.5,788.2 l0.9,0.0" stroke="#fff" stroke-width="0.7" fill="none"/>
<path d="M239.8,817.3 L239.8,768.6" stroke="#000" stroke-width="1.7" fill="none"/><path d="M239.8,806.3 L239.8,798.3" stroke="#000" stroke-width="2.8" fill="none"/><path d="M239.8,804.3 Q238.8,793.8 235.6,794.3 Q233.2,794.7 231.6,798.1" stroke="#000" stroke-width="1.5" fill="none" stroke-linecap="round"/><path d="M239.8,788.3 Q237.8,785.7 235.6,786.5 L233.4,787.9" stroke="#000" stroke-width="1.4" fill="none" stroke-linecap="round"/><path d="M239.8,804.3 Q240.8,793.8 244.0,794.3 Q246.4,794.7 248.0,798.1" stroke="#000" stroke-width="1.5" fill="none" stroke-linecap="round"/><path d="M239.8,788.3 Q241.8,785.7 244.0,786.5 L246.2,787.9" stroke="#000" stroke-width="1.4" fill="none" stroke-linecap="round"/><path d="M240.8,771.8 L240.8,768.2 Q240.4,766.2 238.8,766.4 Q237.0,766.8 236.4,769.0 L235.2,771.0 L239.8,771.2Z" fill="#000"/><path d="M233.0,769.2 L240.3,769.2" stroke="#000" stroke-width="0.6"/><path d="M233.0,770.8 L240.3,770.8" stroke="#000" stroke-width="0.6"/><path d="M231.0,772.6 L243.0,772.6" stroke="#000" stroke-width="0.8"/><path d="M234.4,774.3 L240.1,774.3" stroke="#000" stroke-width="0.6"/><path d="M234.4,775.8 L240.1,775.8" stroke="#000" stroke-width="0.6"/>
<path d="M250.0,817.3 L250.0,775.4" stroke="#000" stroke-width="1.7" fill="none"/><path d="M250.0,806.3 L250.0,798.3" stroke="#000" stroke-width="2.8" fill="none"/><path d="M250.0,804.3 Q249.0,793.8 245.8,794.3 Q243.4,794.7 241.8,798.1" stroke="#000" stroke-width="1.5" fill="none" stroke-linecap="round"/><path d="M250.0,788.3 Q248.0,785.7 245.8,786.5 L243.6,787.9" stroke="#000" stroke-width="1.4" fill="none" stroke-linecap="round"/><path d="M250.0,804.3 Q251.0,793.8 254.2,794.3 Q256.6,794.7 258.2,798.1" stroke="#000" stroke-width="1.5" fill="none" stroke-linecap="round"/><path d="M250.0,788.3 Q252.0,785.7 254.2,786.5 L256.4,787.9" stroke="#000" stroke-width="1.4" fill="none" stroke-linecap="round"/><path d="M251.0,778.6 L251.0,775.0 Q250.6,773.0 249.0,773.2 Q247.2,773.6 246.6,775.8 L245.4,777.8 L250.0,778.0Z" fill="#000"/><path d="M243.2,776.0 L250.5,776.0" stroke="#000" stroke-width="0.6"/><path d="M243.2,777.6 L250.5,777.6" stroke="#000" stroke-width="0.6"/><path d="M241.2,779.4 L253.2,779.4" stroke="#000" stroke-width="0.8"/><path d="M244.6,781.1 L250.3,781.1" stroke="#000" stroke-width="0.6"/><path d="M244.6,782.6 L250.3,782.6" stroke="#000" stroke-width="0.6"/>
<path d="M260.0,817.3 L260.0,774.8" stroke="#000" stroke-width="1.7" fill="none"/><path d="M260.0,806.3 L260.0,798.3" stroke="#000" stroke-width="2.8" fill="none"/><path d="M260.0,804.3 Q259.0,793.8 255.8,794.3 Q253.4,794.7 251.8,798.1" stroke="#000" stroke-width="1.5" fill="none" stroke-linecap="round"/><path d="M260.0,788.3 Q258.0,785.7 255.8,786.5 L253.6,787.9" stroke="#000" stroke-width="1.4" fill="none" stroke-linecap="round"/><path d="M260.0,804.3 Q261.0,793.8 264.2,794.3 Q266.6,794.7 268.2,798.1" stroke="#000" stroke-width="1.5" fill="none" stroke-linecap="round"/><path d="M260.0,788.3 Q262.0,785.7 264.2,786.5 L266.4,787.9" stroke="#000" stroke-width="1.4" fill="none" stroke-linecap="round"/><path d="M260.0,789.3 Q261.5,778.8 266.5,779.1 Q269.5,779.3 270.6,781.7" stroke="#000" stroke-width="1.5" fill="none" stroke-linecap="round"/><path d="M261.0,778.0 L261.0,774.4 Q260.6,772.4 259.0,772.6 Q257.2,773.0 256.6,775.2 L255.4,777.2 L260.0,777.4Z" fill="#000"/><path d="M253.2,775.4 L260.5,775.4" stroke="#000" stroke-width="0.6"/><path d="M253.2,777.0 L260.5,777.0" stroke="#000" stroke-width="0.6"/><path d="M251.2,778.8 L263.2,778.8" stroke="#000" stroke-width="0.8"/><path d="M254.6,780.5 L260.3,780.5" stroke="#000" stroke-width="0.6"/><path d="M254.6,782.0 L260.3,782.0" stroke="#000" stroke-width="0.6"/>
<path d="M273.4,796.1 L274.5,798.8 L276.4,797.3 L276.5,800.0 L278.5,800.4 L277.8,802.5 L280.6,803.9 L278.5,805.3 L279.7,807.6 L276.7,807.3 L276.9,810.1 L274.8,809.2 L273.4,810.7 L272.1,808.7 L269.6,810.6 L269.9,807.5 L267.5,807.4 L268.7,805.2 L266.2,803.9 L269.2,802.6 L268.1,800.3 L270.4,800.2 L270.4,797.3 L272.4,799.0Z" fill="#000" stroke="#000" stroke-width="1.0" stroke-linejoin="round"/><path d="M273.4,817.4 L273.4,803.9" stroke="#000" stroke-width="1.7"/><path d="M270.8,802.8 L272.4,805.4 M276.0,802.8 L274.4,805.4 M269.8,807.5 L271.8,808.7 M277.0,807.5 L275.0,808.7" stroke="#fff" stroke-width="0.8" fill="none" stroke-linecap="round"/>
<path d="M283.0,782.9 L284.4,786.2 L286.9,783.7 L286.9,788.8 L289.8,789.0 L289.1,792.8 L292.5,795.2 L289.5,797.6 L291.3,801.7 L287.5,801.4 L287.4,805.6 L284.7,803.8 L283.0,808.4 L281.4,803.4 L278.0,807.0 L278.5,801.4 L275.1,801.5 L277.0,797.4 L273.3,795.2 L276.9,792.8 L275.4,788.3 L279.0,788.7 L279.4,784.8 L281.7,786.7Z" fill="#000" stroke="#000" stroke-width="1.0" stroke-linejoin="round"/><path d="M283.0,817.4 L283.0,795.2" stroke="#000" stroke-width="2.0"/><path d="M279.6,790.0 L281.4,794.1 M278.4,794.1 L280.8,798.2 M286.4,790.0 L284.6,794.1 M287.6,794.1 L285.2,798.2 M280.0,800.3 L282.0,803.4 M286.0,800.3 L284.0,803.4 M284.0,786.9 L283.4,790.0" stroke="#fff" stroke-width="0.8" fill="none" stroke-linecap="round"/>
<path d="M294.0,782.1 L295.3,787.6 L297.6,785.5 L298.3,788.9 L300.8,789.7 L299.5,793.6 L303.2,795.7 L300.3,798.0 L302.8,802.5 L298.5,801.8 L299.1,807.6 L295.7,804.1 L294.0,808.7 L292.1,804.9 L289.1,807.1 L288.9,802.5 L285.4,802.3 L288.0,797.9 L284.4,795.7 L288.1,793.4 L287.1,789.6 L290.3,789.7 L289.9,784.1 L292.6,787.0Z" fill="#000" stroke="#000" stroke-width="1.0" stroke-linejoin="round"/><path d="M294.0,817.4 L294.0,795.7" stroke="#000" stroke-width="2.0"/><path d="M290.6,790.6 L292.4,794.6 M289.4,794.6 L291.8,798.7 M297.4,790.6 L295.6,794.6 M298.6,794.6 L296.2,798.7 M291.0,800.7 L293.0,803.7 M297.0,800.7 L295.0,803.7 M295.0,787.6 L294.4,790.6" stroke="#fff" stroke-width="0.8" fill="none" stroke-linecap="round"/>
<path d="M302.9,796.8 L304.0,799.2 L306.0,797.9 L305.6,801.1 L308.3,800.8 L307.2,803.1 L309.7,804.3 L307.4,805.5 L308.8,807.7 L306.4,807.8 L306.3,810.2 L304.2,809.1 L302.9,810.8 L301.7,808.8 L299.2,810.6 L299.4,807.8 L296.7,807.9 L297.9,805.7 L296.3,804.3 L298.9,803.2 L297.3,800.7 L299.9,800.8 L300.0,798.1 L301.9,799.5Z" fill="#000" stroke="#000" stroke-width="1.0" stroke-linejoin="round"/><path d="M302.9,817.4 L302.9,804.3" stroke="#000" stroke-width="1.7"/><path d="M300.3,803.3 L301.9,805.8 M305.5,803.3 L303.9,805.8 M299.3,807.9 L301.3,809.0 M306.5,807.9 L304.5,809.0" stroke="#fff" stroke-width="0.8" fill="none" stroke-linecap="round"/>
<path d="M339.2,797.0 L340.2,799.5 L341.9,798.4 L342.2,800.5 L344.3,800.7 L343.4,802.9 L345.8,804.1 L344.1,805.4 L345.9,807.9 L342.7,807.6 L343.1,810.7 L340.6,809.3 L339.2,810.9 L338.0,808.6 L335.8,809.9 L335.5,807.8 L332.9,807.7 L334.0,805.5 L332.0,804.1 L334.7,802.8 L333.8,800.5 L336.5,800.8 L336.5,798.4 L338.1,799.1Z" fill="#000" stroke="#000" stroke-width="1.0" stroke-linejoin="round"/><path d="M339.2,817.3 L339.2,804.1" stroke="#000" stroke-width="1.7"/><path d="M336.6,803.1 L338.2,805.6 M341.8,803.1 L340.2,805.6 M335.6,807.7 L337.6,808.8 M342.8,807.7 L340.8,808.8" stroke="#fff" stroke-width="0.8" fill="none" stroke-linecap="round"/>
<path d="M346.7,791.0 L348.0,793.9 L350.5,791.7 L350.8,795.1 L353.4,795.5 L352.2,798.5 L355.3,800.2 L353.5,802.1 L354.5,805.0 L351.6,805.4 L351.6,809.1 L348.3,806.6 L346.7,810.3 L345.0,807.0 L342.0,808.8 L341.6,805.6 L338.9,804.9 L340.7,801.9 L337.0,800.2 L341.0,798.4 L339.9,795.5 L342.9,795.4 L342.9,791.7 L345.2,793.0Z" fill="#000" stroke="#000" stroke-width="1.0" stroke-linejoin="round"/><path d="M346.7,817.3 L346.7,800.2" stroke="#000" stroke-width="2.0"/><path d="M343.3,796.2 L345.1,799.4 M342.1,799.4 L344.5,802.6 M350.1,796.2 L348.3,799.4 M351.3,799.4 L348.9,802.6 M343.7,804.1 L345.7,806.5 M349.7,804.1 L347.7,806.5 M347.7,793.8 L347.1,796.2" stroke="#fff" stroke-width="0.8" fill="none" stroke-linecap="round"/>
<path d="M356.4,781.5 L357.7,785.4 L360.1,782.8 L360.6,787.0 L363.6,787.4 L362.4,791.6 L364.8,794.2 L362.9,796.6 L365.2,801.3 L361.2,800.9 L361.5,806.8 L358.2,803.9 L356.4,807.5 L354.8,802.6 L351.4,806.4 L351.9,800.5 L348.7,800.4 L349.7,796.7 L346.9,794.2 L350.2,791.6 L348.7,786.9 L352.6,787.8 L352.8,783.2 L355.1,785.6Z" fill="#000" stroke="#000" stroke-width="1.0" stroke-linejoin="round"/><path d="M356.4,817.3 L356.4,794.2" stroke="#000" stroke-width="2.0"/><path d="M353.0,788.7 L354.8,793.0 M351.8,793.0 L354.2,797.3 M359.8,788.7 L358.0,793.0 M361.0,793.0 L358.6,797.3 M353.4,799.5 L355.4,802.7 M359.4,799.5 L357.4,802.7 M357.4,785.5 L356.8,788.7" stroke="#fff" stroke-width="0.8" fill="none" stroke-linecap="round"/>
<path d="M367.3,782.5 L368.7,786.6 L371.4,783.8 L371.1,789.3 L374.6,788.9 L373.5,793.0 L376.9,795.4 L373.5,797.6 L375.8,802.0 L372.1,801.9 L372.1,806.6 L369.2,804.8 L367.3,808.3 L365.6,804.0 L362.2,807.3 L362.5,801.9 L359.3,801.7 L361.0,797.7 L358.3,795.4 L361.9,793.3 L360.0,788.9 L363.2,788.8 L363.5,784.5 L365.9,786.3Z" fill="#000" stroke="#000" stroke-width="1.0" stroke-linejoin="round"/><path d="M367.3,817.3 L367.3,795.4" stroke="#000" stroke-width="2.0"/><path d="M363.9,790.3 L365.7,794.3 M362.7,794.3 L365.1,798.4 M370.7,790.3 L368.9,794.3 M371.9,794.3 L369.5,798.4 M364.3,800.5 L366.3,803.5 M370.3,800.5 L368.3,803.5 M368.3,787.2 L367.7,790.3" stroke="#fff" stroke-width="0.8" fill="none" stroke-linecap="round"/>
<path d="M376.9,791.5 L377.9,794.3 L379.9,792.3 L380.0,795.8 L382.6,795.7 L381.2,798.9 L384.1,800.5 L381.7,802.1 L382.9,804.9 L380.2,804.7 L380.5,808.4 L378.1,806.3 L376.9,809.2 L375.6,806.7 L373.2,808.7 L373.2,805.2 L371.1,804.7 L372.4,802.1 L370.4,800.5 L372.5,798.9 L371.3,795.8 L373.8,795.8 L373.8,792.2 L375.9,794.3Z" fill="#000" stroke="#000" stroke-width="1.0" stroke-linejoin="round"/><path d="M376.9,817.3 L376.9,800.5" stroke="#000" stroke-width="1.7"/><path d="M374.3,799.2 L375.9,802.5 M379.5,799.2 L377.9,802.5 M373.3,805.0 L375.3,806.5 M380.5,805.0 L378.5,806.5" stroke="#fff" stroke-width="0.8" fill="none" stroke-linecap="round"/>
<path d="M384.5,799.8 L385.6,801.6 L387.5,800.4 L387.6,802.7 L389.7,803.0 L389.2,804.7 L391.3,805.9 L389.5,807.1 L390.9,809.1 L388.3,809.2 L387.9,811.0 L385.8,810.0 L384.5,812.3 L383.2,810.1 L380.8,811.4 L381.0,808.9 L377.9,809.2 L380.0,806.9 L377.5,805.9 L380.2,804.8 L379.6,803.1 L381.5,802.8 L381.8,801.0 L383.5,802.0Z" fill="#000" stroke="#000" stroke-width="1.0" stroke-linejoin="round"/><path d="M384.5,817.3 L384.5,805.9" stroke="#000" stroke-width="1.7"/><path d="M381.9,805.0 L383.5,807.2 M387.1,805.0 L385.5,807.2 M380.9,809.0 L382.9,809.9 M388.1,809.0 L386.1,809.9" stroke="#fff" stroke-width="0.8" fill="none" stroke-linecap="round"/>
<path d="M435.4,816.8 L436.1,807.3" stroke="#111" stroke-width="1.1" fill="none"/><path d="M435.4,813.2 L431.3,811.7" stroke="#111" stroke-width="0.8" fill="none"/><ellipse cx="431.3" cy="811.7" rx="1.9" ry="1.25" fill="#111" transform="rotate(-0 431.3 811.7)"/><path d="M435.4,813.2 L438.8,810.9" stroke="#111" stroke-width="0.8" fill="none"/><ellipse cx="438.8" cy="810.9" rx="1.9" ry="1.25" fill="#111" transform="rotate(23 438.8 810.9)"/><path d="M435.4,810.3 L432.7,809.2" stroke="#111" stroke-width="0.8" fill="none"/><ellipse cx="432.7" cy="809.2" rx="1.9" ry="1.25" fill="#111" transform="rotate(27 432.7 809.2)"/><path d="M435.4,810.3 L438.7,807.8" stroke="#111" stroke-width="0.8" fill="none"/><ellipse cx="438.7" cy="807.8" rx="1.9" ry="1.25" fill="#111" transform="rotate(-40 438.7 807.8)"/><path d="M435.4,807.3 L432.0,804.9" stroke="#111" stroke-width="0.8" fill="none"/><ellipse cx="432.0" cy="804.9" rx="1.9" ry="1.25" fill="#111" transform="rotate(-22 432.0 804.9)"/><path d="M435.4,807.3 L439.8,804.5" stroke="#111" stroke-width="0.8" fill="none"/><ellipse cx="439.8" cy="804.5" rx="1.9" ry="1.25" fill="#111" transform="rotate(-38 439.8 804.5)"/><path d="M441.1,816.8 L441.2,807.7" stroke="#111" stroke-width="1.1" fill="none"/><path d="M441.1,813.4 L436.7,811.6" stroke="#111" stroke-width="0.8" fill="none"/><ellipse cx="436.7" cy="811.6" rx="1.9" ry="1.25" fill="#111" transform="rotate(-23 436.7 811.6)"/><path d="M441.1,813.4 L444.5,812.3" stroke="#111" stroke-width="0.8" fill="none"/><ellipse cx="444.5" cy="812.3" rx="1.9" ry="1.25" fill="#111" transform="rotate(-22 444.5 812.3)"/><path d="M441.1,810.5 L437.7,808.6" stroke="#111" stroke-width="0.8" fill="none"/><ellipse cx="437.7" cy="808.6" rx="1.9" ry="1.25" fill="#111" transform="rotate(-21 437.7 808.6)"/><path d="M441.1,810.5 L444.1,809.1" stroke="#111" stroke-width="0.8" fill="none"/><ellipse cx="444.1" cy="809.1" rx="1.9" ry="1.25" fill="#111" transform="rotate(-3 444.1 809.1)"/><path d="M441.1,807.7 L438.0,806.7" stroke="#111" stroke-width="0.8" fill="none"/><ellipse cx="438.0" cy="806.7" rx="1.9" ry="1.25" fill="#111" transform="rotate(27 438.0 806.7)"/><path d="M441.1,807.7 L444.7,805.4" stroke="#111" stroke-width="0.8" fill="none"/><ellipse cx="444.7" cy="805.4" rx="1.9" ry="1.25" fill="#111" transform="rotate(-25 444.7 805.4)"/>
<path d="M449.7,796.4 L450.8,798.4 L452.4,797.8 L452.5,800.2 L455.4,799.7 L454.2,802.3 L456.0,803.6 L454.4,804.9 L456.3,807.4 L453.2,807.1 L453.0,809.4 L451.1,808.8 L449.7,810.4 L448.4,808.6 L446.1,810.0 L446.2,807.2 L443.1,807.5 L445.1,804.8 L442.9,803.6 L445.6,802.4 L444.0,799.7 L446.9,800.2 L446.8,797.4 L448.6,798.5Z" fill="#000" stroke="#000" stroke-width="1.0" stroke-linejoin="round"/><path d="M449.7,817.0 L449.7,803.6" stroke="#000" stroke-width="1.7"/><path d="M447.1,802.6 L448.7,805.2 M452.3,802.6 L450.7,805.2 M446.1,807.2 L448.1,808.3 M453.3,807.2 L451.3,808.3" stroke="#fff" stroke-width="0.8" fill="none" stroke-linecap="round"/>
<path d="M457.2,790.4 L458.2,793.5 L459.9,791.9 L460.3,794.6 L462.6,794.8 L461.7,797.8 L464.0,799.6 L461.9,801.2 L463.6,804.4 L460.8,804.3 L460.9,808.1 L458.5,806.1 L457.2,809.5 L455.9,805.9 L453.8,807.3 L453.9,804.0 L450.8,804.4 L452.6,801.2 L450.3,799.6 L452.8,797.8 L452.2,795.2 L454.1,794.7 L454.5,792.1 L456.1,792.9Z" fill="#000" stroke="#000" stroke-width="1.0" stroke-linejoin="round"/><path d="M457.2,817.0 L457.2,799.6" stroke="#000" stroke-width="1.7"/><path d="M454.6,798.2 L456.2,801.6 M459.8,798.2 L458.2,801.6 M453.6,804.3 L455.6,805.7 M460.8,804.3 L458.8,805.7" stroke="#fff" stroke-width="0.8" fill="none" stroke-linecap="round"/>
<path d="M466.8,782.3 L468.1,787.4 L470.5,784.7 L470.6,789.3 L474.2,788.7 L472.8,793.0 L476.4,795.3 L472.9,797.5 L475.0,801.6 L471.2,801.2 L471.4,805.9 L468.5,803.9 L466.8,807.1 L465.1,803.5 L461.9,806.6 L462.0,801.7 L458.9,801.4 L460.2,797.7 L457.3,795.3 L461.4,793.2 L459.3,788.7 L462.7,788.8 L463.0,784.6 L465.5,787.2Z" fill="#000" stroke="#000" stroke-width="1.0" stroke-linejoin="round"/><path d="M466.8,817.0 L466.8,795.3" stroke="#000" stroke-width="2.0"/><path d="M463.4,790.2 L465.2,794.2 M462.2,794.2 L464.6,798.3 M470.2,790.2 L468.4,794.2 M471.4,794.2 L469.0,798.3 M463.8,800.3 L465.8,803.3 M469.8,800.3 L467.8,803.3 M467.8,787.2 L467.2,790.2" stroke="#fff" stroke-width="0.8" fill="none" stroke-linecap="round"/>
<path d="M477.8,777.6 L479.2,781.0 L481.4,779.2 L481.7,784.1 L485.2,783.8 L483.9,788.6 L486.8,791.5 L484.3,794.2 L485.5,798.4 L482.5,798.8 L482.5,804.2 L479.6,802.2 L477.8,806.6 L476.0,802.0 L473.1,804.3 L473.3,798.5 L469.0,799.4 L471.0,794.3 L469.0,791.5 L472.3,788.9 L470.6,784.0 L473.9,784.1 L473.8,777.9 L476.4,781.2Z" fill="#000" stroke="#000" stroke-width="1.0" stroke-linejoin="round"/><path d="M477.8,817.0 L477.8,791.5" stroke="#000" stroke-width="2.0"/><path d="M474.4,785.4 L476.2,790.2 M473.2,790.2 L475.6,795.0 M481.2,785.4 L479.4,790.2 M482.4,790.2 L480.0,795.0 M474.8,797.3 L476.8,800.9 M480.8,797.3 L478.8,800.9 M478.8,781.9 L478.2,785.4" stroke="#fff" stroke-width="0.8" fill="none" stroke-linecap="round"/>
<path d="M486.7,784.2 L488.1,787.9 L490.8,785.0 L490.4,790.5 L493.5,790.4 L492.1,794.2 L495.2,796.2 L492.7,798.2 L494.5,802.0 L491.5,802.3 L491.9,807.6 L488.5,804.7 L486.7,808.2 L485.0,804.3 L481.8,807.1 L482.1,802.1 L479.0,801.9 L479.9,798.5 L477.5,796.2 L481.2,794.1 L480.0,790.5 L483.0,790.6 L482.6,784.9 L485.4,788.5Z" fill="#000" stroke="#000" stroke-width="1.0" stroke-linejoin="round"/><path d="M486.7,817.0 L486.7,796.2" stroke="#000" stroke-width="2.0"/><path d="M483.3,791.3 L485.1,795.2 M482.1,795.2 L484.5,799.0 M490.1,791.3 L488.3,795.2 M491.3,795.2 L488.9,799.0 M483.7,801.0 L485.7,803.9 M489.7,801.0 L487.7,803.9 M487.7,788.4 L487.1,791.3" stroke="#fff" stroke-width="0.8" fill="none" stroke-linecap="round"/>
<path d="M495.0,790.5 L496.0,793.2 L497.7,792.0 L497.9,795.1 L500.0,795.2 L499.0,798.0 L501.5,799.6 L499.5,801.2 L501.0,804.1 L498.7,804.4 L498.3,807.1 L496.3,806.0 L495.0,808.4 L493.6,806.2 L491.3,808.0 L491.6,804.0 L488.5,804.5 L490.0,801.3 L488.7,799.6 L490.7,797.9 L489.5,794.7 L491.9,794.6 L492.3,791.9 L494.0,793.5Z" fill="#000" stroke="#000" stroke-width="1.0" stroke-linejoin="round"/><path d="M495.0,817.0 L495.0,799.6" stroke="#000" stroke-width="1.7"/><path d="M492.4,798.2 L494.0,801.6 M497.6,798.2 L496.0,801.6 M491.4,804.3 L493.4,805.7 M498.6,804.3 L496.6,805.7" stroke="#fff" stroke-width="0.8" fill="none" stroke-linecap="round"/>
<path d="M502.4,816.8 L503.3,804.4" stroke="#111" stroke-width="1.1" fill="none"/><path d="M502.4,812.1 L499.8,811.0" stroke="#111" stroke-width="0.8" fill="none"/><ellipse cx="499.8" cy="811.0" rx="1.9" ry="1.25" fill="#111" transform="rotate(27 499.8 811.0)"/><path d="M502.4,812.1 L506.4,809.8" stroke="#111" stroke-width="0.8" fill="none"/><ellipse cx="506.4" cy="809.8" rx="1.9" ry="1.25" fill="#111" transform="rotate(-15 506.4 809.8)"/><path d="M502.4,808.2 L498.7,806.0" stroke="#111" stroke-width="0.8" fill="none"/><ellipse cx="498.7" cy="806.0" rx="1.9" ry="1.25" fill="#111" transform="rotate(6 498.7 806.0)"/><path d="M502.4,808.2 L505.2,806.4" stroke="#111" stroke-width="0.8" fill="none"/><ellipse cx="505.2" cy="806.4" rx="1.9" ry="1.25" fill="#111" transform="rotate(-9 505.2 806.4)"/><path d="M502.4,804.4 L498.5,801.4" stroke="#111" stroke-width="0.8" fill="none"/><ellipse cx="498.5" cy="801.4" rx="1.9" ry="1.25" fill="#111" transform="rotate(36 498.5 801.4)"/><path d="M502.4,804.4 L506.0,802.5" stroke="#111" stroke-width="0.8" fill="none"/><ellipse cx="506.0" cy="802.5" rx="1.9" ry="1.25" fill="#111" transform="rotate(-19 506.0 802.5)"/><path d="M509.2,816.8 L508.3,807.7" stroke="#111" stroke-width="1.1" fill="none"/><path d="M509.2,813.4 L505.8,811.7" stroke="#111" stroke-width="0.8" fill="none"/><ellipse cx="505.8" cy="811.7" rx="1.9" ry="1.25" fill="#111" transform="rotate(-10 505.8 811.7)"/><path d="M509.2,813.4 L513.5,811.3" stroke="#111" stroke-width="0.8" fill="none"/><ellipse cx="513.5" cy="811.3" rx="1.9" ry="1.25" fill="#111" transform="rotate(5 513.5 811.3)"/><path d="M509.2,810.5 L506.3,809.5" stroke="#111" stroke-width="0.8" fill="none"/><ellipse cx="506.3" cy="809.5" rx="1.9" ry="1.25" fill="#111" transform="rotate(-14 506.3 809.5)"/><path d="M509.2,810.5 L512.0,808.5" stroke="#111" stroke-width="0.8" fill="none"/><ellipse cx="512.0" cy="808.5" rx="1.9" ry="1.25" fill="#111" transform="rotate(40 512.0 808.5)"/><path d="M509.2,807.7 L505.4,806.3" stroke="#111" stroke-width="0.8" fill="none"/><ellipse cx="505.4" cy="806.3" rx="1.9" ry="1.25" fill="#111" transform="rotate(31 505.4 806.3)"/><path d="M509.2,807.7 L513.3,805.2" stroke="#111" stroke-width="0.8" fill="none"/><ellipse cx="513.3" cy="805.2" rx="1.9" ry="1.25" fill="#111" transform="rotate(33 513.3 805.2)"/><path d="M516.1,816.8 L516.7,805.1" stroke="#111" stroke-width="1.1" fill="none"/><path d="M516.1,812.4 L512.9,809.4" stroke="#111" stroke-width="0.8" fill="none"/><ellipse cx="512.9" cy="809.4" rx="1.9" ry="1.25" fill="#111" transform="rotate(37 512.9 809.4)"/><path d="M516.1,812.4 L518.9,809.9" stroke="#111" stroke-width="0.8" fill="none"/><ellipse cx="518.9" cy="809.9" rx="1.9" ry="1.25" fill="#111" transform="rotate(17 518.9 809.9)"/><path d="M516.1,808.7 L512.7,806.7" stroke="#111" stroke-width="0.8" fill="none"/><ellipse cx="512.7" cy="806.7" rx="1.9" ry="1.25" fill="#111" transform="rotate(-1 512.7 806.7)"/><path d="M516.1,808.7 L520.4,806.7" stroke="#111" stroke-width="0.8" fill="none"/><ellipse cx="520.4" cy="806.7" rx="1.9" ry="1.25" fill="#111" transform="rotate(27 520.4 806.7)"/><path d="M516.1,805.1 L512.9,802.3" stroke="#111" stroke-width="0.8" fill="none"/><ellipse cx="512.9" cy="802.3" rx="1.9" ry="1.25" fill="#111" transform="rotate(32 512.9 802.3)"/><path d="M516.1,805.1 L519.5,802.9" stroke="#111" stroke-width="0.8" fill="none"/><ellipse cx="519.5" cy="802.9" rx="1.9" ry="1.25" fill="#111" transform="rotate(34 519.5 802.9)"/>
<path d="M544.5,816.8 L544.6,806.9" stroke="#111" stroke-width="1.1" fill="none"/><path d="M544.5,813.1 L541.3,810.9" stroke="#111" stroke-width="0.8" fill="none"/><ellipse cx="541.3" cy="810.9" rx="1.9" ry="1.25" fill="#111" transform="rotate(10 541.3 810.9)"/><path d="M544.5,813.1 L547.1,812.1" stroke="#111" stroke-width="0.8" fill="none"/><ellipse cx="547.1" cy="812.1" rx="1.9" ry="1.25" fill="#111" transform="rotate(27 547.1 812.1)"/><path d="M544.5,810.0 L541.5,808.6" stroke="#111" stroke-width="0.8" fill="none"/><ellipse cx="541.5" cy="808.6" rx="1.9" ry="1.25" fill="#111" transform="rotate(40 541.5 808.6)"/><path d="M544.5,810.0 L547.9,807.4" stroke="#111" stroke-width="0.8" fill="none"/><ellipse cx="547.9" cy="807.4" rx="1.9" ry="1.25" fill="#111" transform="rotate(-2 547.9 807.4)"/><path d="M544.5,806.9 L540.7,805.6" stroke="#111" stroke-width="0.8" fill="none"/><ellipse cx="540.7" cy="805.6" rx="1.9" ry="1.25" fill="#111" transform="rotate(11 540.7 805.6)"/><path d="M544.5,806.9 L548.7,804.9" stroke="#111" stroke-width="0.8" fill="none"/><ellipse cx="548.7" cy="804.9" rx="1.9" ry="1.25" fill="#111" transform="rotate(19 548.7 804.9)"/><path d="M551.5,816.8 L550.6,805.4" stroke="#111" stroke-width="1.1" fill="none"/><path d="M551.5,812.5 L547.5,810.3" stroke="#111" stroke-width="0.8" fill="none"/><ellipse cx="547.5" cy="810.3" rx="1.9" ry="1.25" fill="#111" transform="rotate(-16 547.5 810.3)"/><path d="M551.5,812.5 L554.1,809.8" stroke="#111" stroke-width="0.8" fill="none"/><ellipse cx="554.1" cy="809.8" rx="1.9" ry="1.25" fill="#111" transform="rotate(-2 554.1 809.8)"/><path d="M551.5,809.0 L547.6,806.2" stroke="#111" stroke-width="0.8" fill="none"/><ellipse cx="547.6" cy="806.2" rx="1.9" ry="1.25" fill="#111" transform="rotate(17 547.6 806.2)"/><path d="M551.5,809.0 L555.8,807.2" stroke="#111" stroke-width="0.8" fill="none"/><ellipse cx="555.8" cy="807.2" rx="1.9" ry="1.25" fill="#111" transform="rotate(24 555.8 807.2)"/><path d="M551.5,805.4 L548.1,802.5" stroke="#111" stroke-width="0.8" fill="none"/><ellipse cx="548.1" cy="802.5" rx="1.9" ry="1.25" fill="#111" transform="rotate(30 548.1 802.5)"/><path d="M551.5,805.4 L554.2,804.1" stroke="#111" stroke-width="0.8" fill="none"/><ellipse cx="554.2" cy="804.1" rx="1.9" ry="1.25" fill="#111" transform="rotate(-23 554.2 804.1)"/><path d="M558.5,816.8 L558.4,804.3" stroke="#111" stroke-width="1.1" fill="none"/><path d="M558.5,812.1 L554.7,810.5" stroke="#111" stroke-width="0.8" fill="none"/><ellipse cx="554.7" cy="810.5" rx="1.9" ry="1.25" fill="#111" transform="rotate(1 554.7 810.5)"/><path d="M558.5,812.1 L561.8,810.4" stroke="#111" stroke-width="0.8" fill="none"/><ellipse cx="561.8" cy="810.4" rx="1.9" ry="1.25" fill="#111" transform="rotate(7 561.8 810.4)"/><path d="M558.5,808.2 L554.8,805.4" stroke="#111" stroke-width="0.8" fill="none"/><ellipse cx="554.8" cy="805.4" rx="1.9" ry="1.25" fill="#111" transform="rotate(15 554.8 805.4)"/><path d="M558.5,808.2 L562.9,805.5" stroke="#111" stroke-width="0.8" fill="none"/><ellipse cx="562.9" cy="805.5" rx="1.9" ry="1.25" fill="#111" transform="rotate(39 562.9 805.5)"/><path d="M558.5,804.3 L554.7,803.0" stroke="#111" stroke-width="0.8" fill="none"/><ellipse cx="554.7" cy="803.0" rx="1.9" ry="1.25" fill="#111" transform="rotate(29 554.7 803.0)"/><path d="M558.5,804.3 L562.9,801.5" stroke="#111" stroke-width="0.8" fill="none"/><ellipse cx="562.9" cy="801.5" rx="1.9" ry="1.25" fill="#111" transform="rotate(6 562.9 801.5)"/>
<path d="M566.8,817.2 L566.8,773.6" stroke="#000" stroke-width="1.7" fill="none"/><path d="M566.8,806.2 L566.8,798.2" stroke="#000" stroke-width="2.8" fill="none"/><path d="M566.8,804.2 Q565.8,793.7 562.6,794.2 Q560.2,794.6 558.6,798.0" stroke="#000" stroke-width="1.5" fill="none" stroke-linecap="round"/><path d="M566.8,788.2 Q564.8,785.6 562.6,786.4 L560.4,787.8" stroke="#000" stroke-width="1.4" fill="none" stroke-linecap="round"/><path d="M566.8,804.2 Q567.8,793.7 571.0,794.2 Q573.4,794.6 575.0,798.0" stroke="#000" stroke-width="1.5" fill="none" stroke-linecap="round"/><path d="M566.8,788.2 Q568.8,785.6 571.0,786.4 L573.2,787.8" stroke="#000" stroke-width="1.4" fill="none" stroke-linecap="round"/><path d="M567.8,776.8 L567.8,773.2 Q567.4,771.2 565.8,771.4 Q564.0,771.8 563.4,774.0 L562.2,776.0 L566.8,776.2Z" fill="#000"/><path d="M560.0,774.2 L567.3,774.2" stroke="#000" stroke-width="0.6"/><path d="M560.0,775.8 L567.3,775.8" stroke="#000" stroke-width="0.6"/><path d="M558.0,777.6 L570.0,777.6" stroke="#000" stroke-width="0.8"/><path d="M561.4,779.3 L567.1,779.3" stroke="#000" stroke-width="0.6"/><path d="M561.4,780.8 L567.1,780.8" stroke="#000" stroke-width="0.6"/>
<path d="M578.0,817.2 L578.0,773.6" stroke="#000" stroke-width="1.7" fill="none"/><path d="M578.0,806.2 L578.0,798.2" stroke="#000" stroke-width="2.8" fill="none"/><path d="M578.0,804.2 Q577.0,793.7 573.8,794.2 Q571.4,794.6 569.8,798.0" stroke="#000" stroke-width="1.5" fill="none" stroke-linecap="round"/><path d="M578.0,788.2 Q576.0,785.6 573.8,786.4 L571.6,787.8" stroke="#000" stroke-width="1.4" fill="none" stroke-linecap="round"/><path d="M578.0,804.2 Q579.0,793.7 582.2,794.2 Q584.6,794.6 586.2,798.0" stroke="#000" stroke-width="1.5" fill="none" stroke-linecap="round"/><path d="M578.0,788.2 Q580.0,785.6 582.2,786.4 L584.4,787.8" stroke="#000" stroke-width="1.4" fill="none" stroke-linecap="round"/><path d="M579.0,776.8 L579.0,773.2 Q578.6,771.2 577.0,771.4 Q575.2,771.8 574.6,774.0 L573.4,776.0 L578.0,776.2Z" fill="#000"/><path d="M571.2,774.2 L578.5,774.2" stroke="#000" stroke-width="0.6"/><path d="M571.2,775.8 L578.5,775.8" stroke="#000" stroke-width="0.6"/><path d="M569.2,777.6 L581.2,777.6" stroke="#000" stroke-width="0.8"/><path d="M572.6,779.3 L578.3,779.3" stroke="#000" stroke-width="0.6"/><path d="M572.6,780.8 L578.3,780.8" stroke="#000" stroke-width="0.6"/>
<path d="M591.5,817.2 L591.5,773.6" stroke="#000" stroke-width="1.7" fill="none"/><path d="M591.5,806.2 L591.5,798.2" stroke="#000" stroke-width="2.8" fill="none"/><path d="M591.5,804.2 Q590.5,793.7 587.3,794.2 Q584.9,794.6 583.3,798.0" stroke="#000" stroke-width="1.5" fill="none" stroke-linecap="round"/><path d="M591.5,788.2 Q589.5,785.6 587.3,786.4 L585.1,787.8" stroke="#000" stroke-width="1.4" fill="none" stroke-linecap="round"/><path d="M591.5,804.2 Q592.5,793.7 595.7,794.2 Q598.1,794.6 599.7,798.0" stroke="#000" stroke-width="1.5" fill="none" stroke-linecap="round"/><path d="M591.5,788.2 Q593.5,785.6 595.7,786.4 L597.9,787.8" stroke="#000" stroke-width="1.4" fill="none" stroke-linecap="round"/><path d="M591.5,789.2 Q593.0,778.7 598.0,779.0 Q601.0,779.2 602.1,781.6" stroke="#000" stroke-width="1.5" fill="none" stroke-linecap="round"/><path d="M592.5,776.8 L592.5,773.2 Q592.1,771.2 590.5,771.4 Q588.7,771.8 588.1,774.0 L586.9,776.0 L591.5,776.2Z" fill="#000"/><path d="M584.7,774.2 L592.0,774.2" stroke="#000" stroke-width="0.6"/><path d="M584.7,775.8 L592.0,775.8" stroke="#000" stroke-width="0.6"/><path d="M582.7,777.6 L594.7,777.6" stroke="#000" stroke-width="0.8"/><path d="M586.1,779.3 L591.8,779.3" stroke="#000" stroke-width="0.6"/><path d="M586.1,780.8 L591.8,780.8" stroke="#000" stroke-width="0.6"/>
<path d="M604.8,800.3 L609.8,806.3" stroke="#000" stroke-width="0.9"/>
<path d="M604.8,791.7 L606.7,794.2 L610.3,793.7 L608.9,796.1 L611.4,797.9 L608.5,799.9 L609.7,802.1 L605.9,801.5 L604.7,802.5 L603.5,801.3 L600.5,802.5 L600.9,799.9 L598.5,798.2 L600.4,796.1 L599.1,793.7 L603.1,794.1Z" fill="#000" stroke="#000" stroke-width="0.9" stroke-linejoin="round"/><path d="M606.2,796.8 l0.5,-0.1 M604.6,799.0 l0.2,-0.2 M602.8,795.9 l0.9,0.8 M602.3,795.4 l-0.0,0.9 M606.0,795.1 l-1.0,0.2 M603.6,797.5 l-0.4,0.0 M605.8,797.7 l0.2,-0.2" stroke="#fff" stroke-width="0.7" fill="none"/>
<path d="M612.3,790.0 L617.3,796.0" stroke="#000" stroke-width="0.9"/>
<path d="M612.1,781.5 L613.9,784.3 L617.6,783.1 L617.0,785.9 L619.1,788.0 L616.3,789.5 L616.9,791.8 L614.0,790.8 L612.7,792.3 L610.6,790.7 L607.7,792.1 L608.0,789.4 L605.7,788.0 L608.2,786.1 L606.5,783.3 L610.4,784.3Z" fill="#000" stroke="#000" stroke-width="0.9" stroke-linejoin="round"/><path d="M609.0,787.9 l1.4,0.8 M613.7,784.8 l0.3,-0.8 M614.5,787.1 l-1.4,-0.2 M611.0,788.0 l1.3,-0.9 M614.3,786.1 l-0.9,-0.3 M611.1,787.7 l0.7,0.4 M615.4,787.0 l0.8,1.2" stroke="#fff" stroke-width="0.7" fill="none"/>
<path d="M619.2,779.7 L624.2,785.7" stroke="#000" stroke-width="0.9"/>
<path d="M619.6,770.9 L621.2,773.8 L625.1,772.7 L623.9,775.4 L626.1,777.5 L623.0,779.0 L623.9,781.3 L620.4,780.3 L618.9,781.6 L617.7,780.4 L614.8,781.6 L615.5,779.3 L613.0,777.8 L614.9,775.8 L614.0,772.8 L617.1,773.8Z" fill="#000" stroke="#000" stroke-width="0.9" stroke-linejoin="round"/><path d="M617.8,776.8 l-1.1,-0.8 M618.2,774.4 l0.4,-0.2 M620.1,777.2 l0.4,0.1 M617.8,777.4 l-1.1,-0.8 M621.0,778.7 l-0.5,0.1 M617.0,778.0 l0.7,0.7 M621.3,779.6 l1.0,0.8" stroke="#fff" stroke-width="0.7" fill="none"/>
<path d="M638.0,768.6 L638.0,764.8 M635.3,761.0 L638.0,765.2 L640.7,761.0" fill="none" stroke="#000" stroke-width="1.6" stroke-linecap="round" stroke-linejoin="round"/>
<path d="M646.8,768.6 L646.8,764.8 M644.1,761.0 L646.8,765.2 L649.5,761.0" fill="none" stroke="#000" stroke-width="1.6" stroke-linecap="round" stroke-linejoin="round"/>
<path d="M678.8,768.6 L678.8,764.8 M676.1,761.0 L678.8,765.2 L681.5,761.0" fill="none" stroke="#000" stroke-width="1.6" stroke-linecap="round" stroke-linejoin="round"/>
<path d="M687.5,768.6 L687.5,764.8 M684.8,761.0 L687.5,765.2 L690.2,761.0" fill="none" stroke="#000" stroke-width="1.6" stroke-linecap="round" stroke-linejoin="round"/>
<path d="M696.3,768.6 L696.3,764.8 M693.6,761.0 L696.3,765.2 L699.0,761.0" fill="none" stroke="#000" stroke-width="1.6" stroke-linecap="round" stroke-linejoin="round"/>
<path d="M705.0,768.6 L705.0,764.8 M702.3,761.0 L705.0,765.2 L707.7,761.0" fill="none" stroke="#000" stroke-width="1.6" stroke-linecap="round" stroke-linejoin="round"/>
<path d="M713.8,768.6 L713.8,764.8 M711.1,761.0 L713.8,765.2 L716.5,761.0" fill="none" stroke="#000" stroke-width="1.6" stroke-linecap="round" stroke-linejoin="round"/>
<path d="M722.5,768.6 L722.5,764.8 M719.8,761.0 L722.5,765.2 L725.2,761.0" fill="none" stroke="#000" stroke-width="1.6" stroke-linecap="round" stroke-linejoin="round"/>
<path d="M731.2,768.6 L731.2,764.8 M728.5,761.0 L731.2,765.2 L733.9,761.0" fill="none" stroke="#000" stroke-width="1.6" stroke-linecap="round" stroke-linejoin="round"/>
<path d="M740.0,768.6 L740.0,764.8 M737.3,761.0 L740.0,765.2 L742.7,761.0" fill="none" stroke="#000" stroke-width="1.6" stroke-linecap="round" stroke-linejoin="round"/>
<path d="M748.7,768.6 L748.7,764.8 M746.0,761.0 L748.7,765.2 L751.4,761.0" fill="none" stroke="#000" stroke-width="1.6" stroke-linecap="round" stroke-linejoin="round"/>
<circle cx="655.5" cy="760.8" r="1.25" fill="#fff" stroke="#000" stroke-width="1.45"/><circle cx="658.4" cy="760.8" r="1.25" fill="#fff" stroke="#000" stroke-width="1.45"/><circle cx="661.3" cy="760.8" r="1.25" fill="#fff" stroke="#000" stroke-width="1.45"/><path d="M653.8,763.2 L663.0,763.2" stroke="#000" stroke-width="1.0"/><path d="M658.4,768.8 L658.4,763.2" stroke="#000" stroke-width="0.9"/><circle cx="666.3" cy="760.8" r="1.25" fill="#fff" stroke="#000" stroke-width="1.45"/><circle cx="669.2" cy="760.8" r="1.25" fill="#fff" stroke="#000" stroke-width="1.45"/><circle cx="672.1" cy="760.8" r="1.25" fill="#fff" stroke="#000" stroke-width="1.45"/><path d="M664.6,763.2 L673.8,763.2" stroke="#000" stroke-width="1.0"/><path d="M669.2,768.8 L669.2,763.2" stroke="#000" stroke-width="0.9"/>
<path d="M757.9,759.9 Q757.3,755.5 761.0,754.9 Q764.7,754.5 765.3,757.1 L762.5,761.1Z" fill="#8c8c8c" stroke="#333" stroke-width="0.6"/>
<path d="M765.5,750.5 Q764.9,746.1 768.6,745.5 Q772.3,745.1 772.9,747.7 L770.1,751.7Z" fill="#8c8c8c" stroke="#333" stroke-width="0.6"/>
<path d="M779.7,731.9 Q779.1,727.5 782.8,726.9 Q786.5,726.5 787.1,729.1 L784.3,733.1Z" fill="#8c8c8c" stroke="#333" stroke-width="0.6"/>
<path d="M787.1,721.8 Q786.5,717.4 790.2,716.8 Q793.9,716.4 794.5,719.0 L791.7,723.0Z" fill="#8c8c8c" stroke="#333" stroke-width="0.6"/>
<path d="M795.4,710.9 Q794.8,706.5 798.5,705.9 Q802.2,705.5 802.8,708.1 L800.0,712.1Z" fill="#8c8c8c" stroke="#333" stroke-width="0.6"/>
<path d="M773.2,741.4 Q773.2,738.8 770.6,739.2 Q770.6,741.8 773.2,741.4Z M773.2,741.4 Q775.4,742.9 776.5,740.5 Q774.3,739.0 773.2,741.4Z M773.2,739.7 Q771.9,737.2 769.3,738.4 Q770.6,741.0 773.2,739.7Z M773.2,739.7 Q776.0,740.1 776.5,737.3 Q773.7,736.9 773.2,739.7Z M773.2,738.1 Q772.1,735.2 769.1,735.9 Q770.2,738.8 773.2,738.1Z M773.2,738.1 Q776.2,738.7 777.2,735.8 Q774.2,735.2 773.2,738.1Z M773.2,736.4 Q771.7,733.6 768.6,734.5 Q770.2,737.3 773.2,736.4Z M773.2,736.4 Q776.1,737.6 777.9,734.9 Q775.0,733.8 773.2,736.4Z M773.2,734.7 Q772.6,731.6 769.4,731.4 Q770.0,734.5 773.2,734.7Z M773.2,734.7 Q776.4,734.4 776.8,731.2 Q773.6,731.5 773.2,734.7Z M773.2,733.1 Q771.4,730.5 768.5,731.7 Q770.3,734.3 773.2,733.1Z M773.2,733.1 Q776.3,733.6 777.5,730.6 Q774.3,730.1 773.2,733.1Z M773.2,731.4 Q771.6,728.8 768.8,730.0 Q770.4,732.6 773.2,731.4Z M773.2,731.4 Q776.2,731.2 776.5,728.1 Q773.4,728.4 773.2,731.4Z M773.2,729.7 Q772.4,727.0 769.6,727.7 Q770.4,730.5 773.2,729.7Z M773.2,729.7 Q775.8,730.9 777.1,728.3 Q774.5,727.2 773.2,729.7Z M773.2,728.1 Q773.0,725.4 770.4,726.0 Q770.6,728.6 773.2,728.1Z M773.2,728.1 Q775.3,729.7 776.6,727.3 Q774.5,725.8 773.2,728.1Z M773.2,730.4 Q775.0,728.8 773.2,727.1 Q771.4,728.8 773.2,730.4Z" fill="#000" stroke="#000" stroke-width="0.6"/><path d="M773.2,743.4 L773.2,728.9" stroke="#000" stroke-width="3.4" stroke-linecap="round"/>
<path d="M794.8,712.3 Q793.5,710.0 791.5,711.6 Q792.7,713.9 794.8,712.3Z M794.8,712.3 Q796.9,713.9 798.1,711.6 Q796.0,710.0 794.8,712.3Z M794.8,710.6 Q794.7,707.8 791.9,707.9 Q792.0,710.7 794.8,710.6Z M794.8,710.6 Q797.6,710.8 797.8,708.0 Q794.9,707.8 794.8,710.6Z M794.8,709.0 Q793.2,706.4 790.5,707.8 Q792.1,710.3 794.8,709.0Z M794.8,709.0 Q797.6,710.1 799.0,707.5 Q796.3,706.3 794.8,709.0Z M794.8,707.3 Q793.3,704.6 790.3,705.5 Q791.8,708.3 794.8,707.3Z M794.8,707.3 Q797.9,707.6 798.8,704.6 Q795.7,704.3 794.8,707.3Z M794.8,705.6 Q793.4,702.8 790.3,703.7 Q791.8,706.5 794.8,705.6Z M794.8,705.6 Q797.8,706.5 799.3,703.7 Q796.2,702.8 794.8,705.6Z M794.8,704.0 Q793.5,701.1 790.4,702.0 Q791.8,704.8 794.8,704.0Z M794.8,704.0 Q797.9,704.0 798.5,700.9 Q795.4,700.9 794.8,704.0Z M794.8,702.3 Q793.9,699.4 790.9,700.1 Q791.9,702.9 794.8,702.3Z M794.8,702.3 Q797.8,702.8 798.6,700.0 Q795.7,699.4 794.8,702.3Z M794.8,700.6 Q793.6,698.1 791.0,699.3 Q792.2,701.8 794.8,700.6Z M794.8,700.6 Q797.1,702.2 798.7,699.9 Q796.4,698.3 794.8,700.6Z M794.8,699.0 Q793.6,696.7 791.5,698.3 Q792.7,700.6 794.8,699.0Z M794.8,699.0 Q797.2,700.0 797.8,697.5 Q795.4,696.4 794.8,699.0Z M794.8,701.3 Q796.6,699.6 794.8,698.0 Q793.0,699.6 794.8,701.3Z" fill="#000" stroke="#000" stroke-width="0.6"/><path d="M794.8,714.3 L794.8,699.8" stroke="#000" stroke-width="3.4" stroke-linecap="round"/>
<text x="28.4" y="745.4" font-family="Liberation Sans, Arial, sans-serif" font-size="10.2" font-weight="bold" text-anchor="middle" fill="#111">G</text><text x="28.4" y="758.5" font-family="Liberation Sans, Arial, sans-serif" font-size="10.2" font-weight="bold" text-anchor="middle" fill="#111">b</text>
<text x="70.9" y="783.9" font-family="Liberation Sans, Arial, sans-serif" font-size="10.2" font-weight="bold" text-anchor="middle" fill="#111">Eq</text><text x="70.9" y="797.0" font-family="Liberation Sans, Arial, sans-serif" font-size="10.2" font-weight="bold" text-anchor="middle" fill="#111">a</text>
<text x="113.9" y="798.6" font-family="Liberation Sans, Arial, sans-serif" font-size="10.2" font-weight="bold" text-anchor="middle" fill="#111">Z</text><text x="113.9" y="811.7" font-family="Liberation Sans, Arial, sans-serif" font-size="10.2" font-weight="bold" text-anchor="middle" fill="#111">j</text>
<text x="144.6" y="798.6" font-family="Liberation Sans, Arial, sans-serif" font-size="10.2" font-weight="bold" text-anchor="middle" fill="#111">Tr</text><text x="144.6" y="811.7" font-family="Liberation Sans, Arial, sans-serif" font-size="10.2" font-weight="bold" text-anchor="middle" fill="#111">r</text>
<text x="210.2" y="813.6" font-family="Liberation Sans, Arial, sans-serif" font-size="10.2" font-weight="bold" text-anchor="middle" fill="#111">G</text><text x="210.2" y="826.7" font-family="Liberation Sans, Arial, sans-serif" font-size="10.2" font-weight="bold" text-anchor="middle" fill="#111">s</text>
<text x="248.3" y="839.5" font-family="Liberation Sans, Arial, sans-serif" font-size="10.2" font-weight="bold" text-anchor="middle" fill="#111">Ph</text><text x="248.3" y="852.6" font-family="Liberation Sans, Arial, sans-serif" font-size="10.2" font-weight="bold" text-anchor="middle" fill="#111">c</text>
<text x="276.2" y="840.9" font-family="Liberation Sans, Arial, sans-serif" font-size="10.2" font-weight="bold" text-anchor="middle" fill="#111">Ve</text><text x="276.2" y="854.0" font-family="Liberation Sans, Arial, sans-serif" font-size="10.2" font-weight="bold" text-anchor="middle" fill="#111">a</text>
<text x="318" y="848.1" font-family="Liberation Sans, Arial, sans-serif" font-size="10.45" font-weight="bold" text-anchor="middle" fill="#111">Waterway</text>
<text x="361.7" y="841.4" font-family="Liberation Sans, Arial, sans-serif" font-size="10.2" font-weight="bold" text-anchor="middle" fill="#111">Ve</text><text x="361.7" y="854.5" font-family="Liberation Sans, Arial, sans-serif" font-size="10.2" font-weight="bold" text-anchor="middle" fill="#111">a</text>
<text x="414.2" y="849.3" font-family="Liberation Sans, Arial, sans-serif" font-size="10.45" font-weight="bold" text-anchor="middle" fill="#111">waterway</text>
<text x="466" y="848.1" font-family="Liberation Sans, Arial, sans-serif" font-size="10.2" font-weight="bold" text-anchor="middle" fill="#111">Ve</text><text x="466" y="861.2" font-family="Liberation Sans, Arial, sans-serif" font-size="10.2" font-weight="bold" text-anchor="middle" fill="#111">a</text>
<text x="496.4" y="848.1" font-family="Liberation Sans, Arial, sans-serif" font-size="10.2" font-weight="bold" text-anchor="middle" fill="#111">P</text><text x="496.4" y="861.2" font-family="Liberation Sans, Arial, sans-serif" font-size="10.2" font-weight="bold" text-anchor="middle" fill="#111">t</text>
<text x="527.8" y="849.3" font-family="Liberation Sans, Arial, sans-serif" font-size="10.45" font-weight="bold" text-anchor="middle" fill="#111">waterway</text>
<text x="560.4" y="846.0" font-family="Liberation Sans, Arial, sans-serif" font-size="10.2" font-weight="bold" text-anchor="middle" fill="#111">P</text><text x="560.4" y="859.3" font-family="Liberation Sans, Arial, sans-serif" font-size="10.2" font-weight="bold" text-anchor="middle" fill="#111">t</text>
<text x="585.3" y="845.8" font-family="Liberation Sans, Arial, sans-serif" font-size="10.2" font-weight="bold" text-anchor="middle" fill="#111">Ph</text><text x="585.3" y="858.7" font-family="Liberation Sans, Arial, sans-serif" font-size="10.2" font-weight="bold" text-anchor="middle" fill="#111">c</text>
<text x="620.6" y="827.3" font-family="Liberation Sans, Arial, sans-serif" font-size="10.2" font-weight="bold" text-anchor="middle" fill="#111">G</text><text x="620.6" y="840.4" font-family="Liberation Sans, Arial, sans-serif" font-size="10.2" font-weight="bold" text-anchor="middle" fill="#111">s</text>
<text x="666.6" y="809.7" font-family="Liberation Sans, Arial, sans-serif" font-size="10.2" font-weight="bold" text-anchor="middle" fill="#111">Tr</text><text x="666.6" y="822.8" font-family="Liberation Sans, Arial, sans-serif" font-size="10.2" font-weight="bold" text-anchor="middle" fill="#111">r</text>
<text x="713" y="809.7" font-family="Liberation Sans, Arial, sans-serif" font-size="10.2" font-weight="bold" text-anchor="middle" fill="#111">Z</text><text x="713" y="822.8" font-family="Liberation Sans, Arial, sans-serif" font-size="10.2" font-weight="bold" text-anchor="middle" fill="#111">j</text>
<text x="781.7" y="778.2" font-family="Liberation Sans, Arial, sans-serif" font-size="10.2" font-weight="bold" text-anchor="middle" fill="#111">Ar</text><text x="781.7" y="791.3" font-family="Liberation Sans, Arial, sans-serif" font-size="10.2" font-weight="bold" text-anchor="middle" fill="#111">p</text>
<text x="823.1" y="745.6" font-family="Liberation Sans, Arial, sans-serif" font-size="10.2" font-weight="bold" text-anchor="middle" fill="#111">G</text><text x="823.1" y="758.7" font-family="Liberation Sans, Arial, sans-serif" font-size="10.2" font-weight="bold" text-anchor="middle" fill="#111">b</text>
</svg>
</body></html>
